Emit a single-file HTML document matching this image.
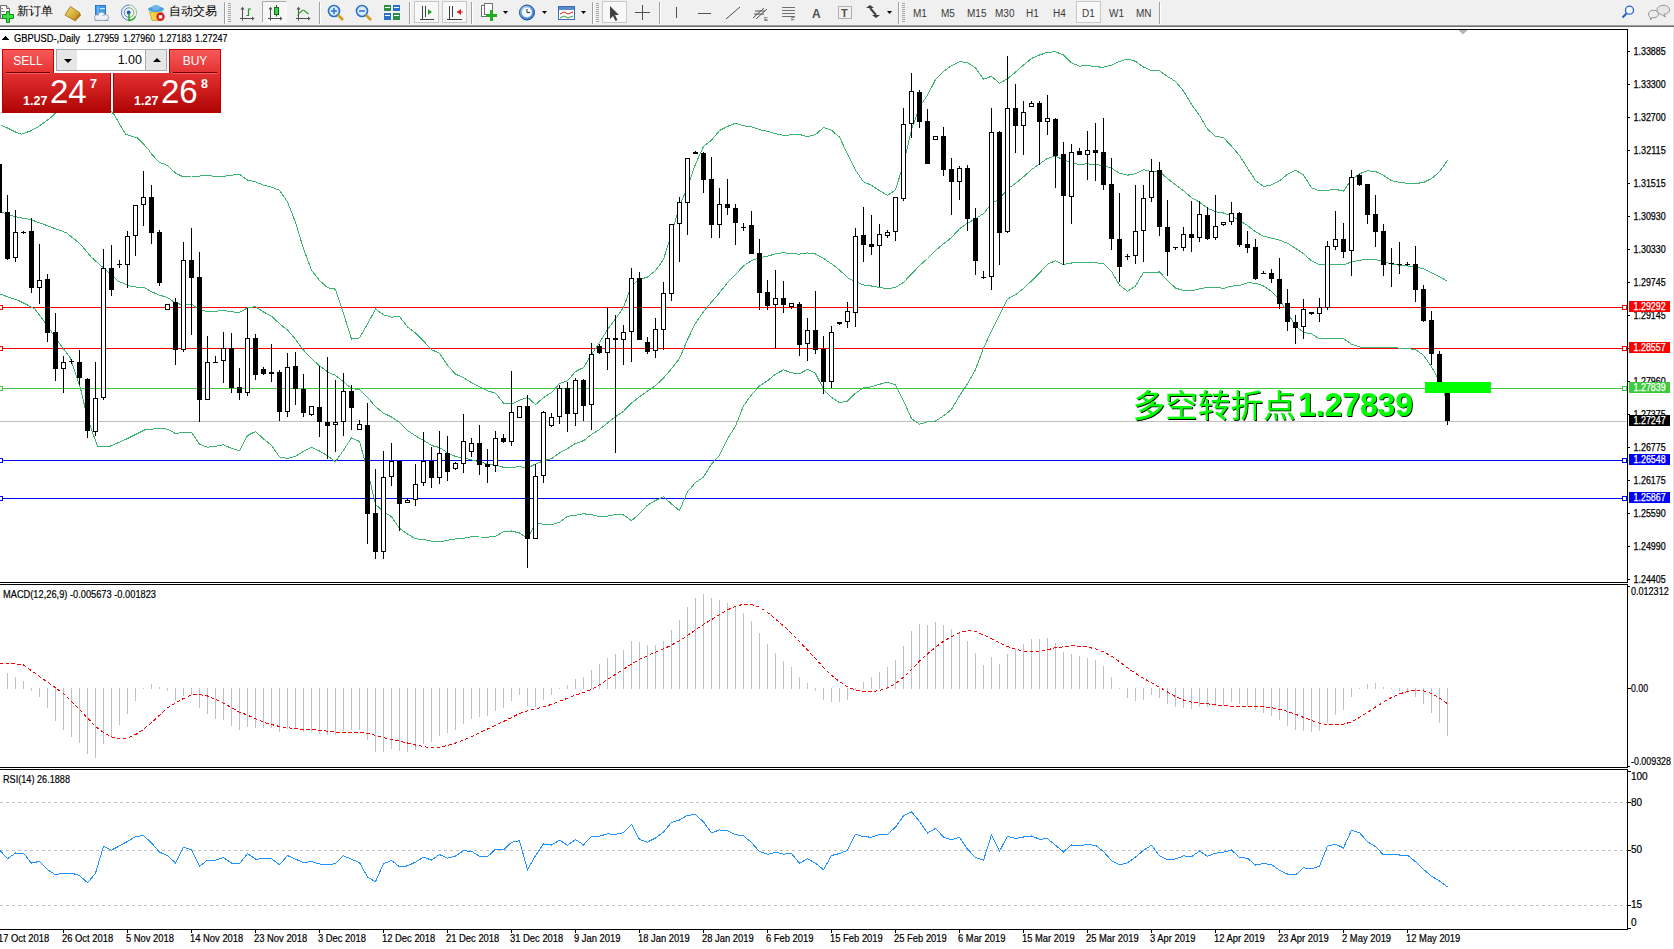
<!DOCTYPE html>
<html><head><meta charset="utf-8"><title>GBPUSD Daily</title><style>
*{margin:0;padding:0;box-sizing:border-box}
html,body{width:1674px;height:949px;overflow:hidden;background:#fff}
#root{position:relative;width:1674px;height:949px;overflow:hidden}
#chart{position:absolute;left:0;top:0}
#tb{position:absolute;left:0;top:0;width:1674px;height:25px;background:#f0f0f0}
.tt{position:absolute;color:#000;line-height:16px;white-space:nowrap}
.tf{position:absolute;top:7.5px;font-family:"Liberation Sans", "DejaVu Sans", sans-serif;font-size:10px;color:#3a3a3a;line-height:12px}
#tp{position:absolute;left:0;top:0}
.hdr{position:absolute;z-index:2;top:49px;width:52px;height:24px;background:linear-gradient(#f85a5a,#e43232);border:1px solid #c80000;border-bottom:none;color:#fff;font-family:"Liberation Sans", "DejaVu Sans", sans-serif;font-size:12px;text-align:center;line-height:22px}
.hdr i{position:absolute;left:3px;right:3px;top:22px;height:1px;background:#7a0000;box-shadow:0 1px 0 #f06060}
.spin{position:absolute;top:49px;width:22px;height:22px;background:#e6e6e6;border:1px solid #a9a9a9}
.spin b{position:absolute;left:7px;top:9px;width:0;height:0;border-left:4px solid transparent;border-right:4px solid transparent}
.spin b.dn{border-top:4px solid #000}
.spin b.up{border-bottom:4px solid #000;top:8px}
.lot{position:absolute;left:77px;top:49px;width:69px;height:22px;background:#fff;border-top:1px solid #a9a9a9;border-bottom:1px solid #a9a9a9;font-family:"Liberation Sans", "DejaVu Sans", sans-serif;font-size:12.5px;text-align:right;padding-right:4px;line-height:20px;color:#000}
.px{position:absolute;top:73px;height:40px;background:linear-gradient(#e43030,#b00404);border:1px solid #b80000;border-top:none;color:#fff;font-family:"Liberation Sans", "DejaVu Sans", sans-serif}
.px .s{position:absolute;left:20px;top:21px;font-size:12.5px;font-weight:bold}
.px .b{position:absolute;left:47px;top:1px;font-size:33px;line-height:36px}
.px .e{position:absolute;left:87px;top:4px;font-size:12.5px;font-weight:bold}
</style></head>
<body><div id="root">
<svg id="chart" width="1674" height="949" viewBox="0 0 1674 949" shape-rendering="crispEdges">
<defs><filter id="sh" x="-5%" y="-20%" width="110%" height="140%"><feDropShadow dx="1" dy="1" stdDeviation="0" flood-color="#000"/></filter></defs>
<rect x="0" y="0" width="1674" height="949" fill="#fff" /><rect x="0" y="421" width="1627" height="1" fill="#c0c0c0" /><rect x="0" y="307" width="1627" height="1" fill="#ff0000" /><rect x="-1.5" y="305.5" width="4" height="4" fill="#fff" stroke="#ff0000" stroke-width="1"/><rect x="1622.5" y="305.5" width="4" height="4" fill="#fff" stroke="#ff0000" stroke-width="1"/><rect x="0" y="348" width="1627" height="1" fill="#ff0000" /><rect x="-1.5" y="346.5" width="4" height="4" fill="#fff" stroke="#ff0000" stroke-width="1"/><rect x="1622.5" y="346.5" width="4" height="4" fill="#fff" stroke="#ff0000" stroke-width="1"/><rect x="0" y="388" width="1627" height="1" fill="#3ccb3c" /><rect x="-1.5" y="386.5" width="4" height="4" fill="#fff" stroke="#3ccb3c" stroke-width="1"/><rect x="1622.5" y="386.5" width="4" height="4" fill="#fff" stroke="#3ccb3c" stroke-width="1"/><rect x="0" y="460" width="1627" height="1" fill="#0000ff" /><rect x="-1.5" y="458.5" width="4" height="4" fill="#fff" stroke="#0000ff" stroke-width="1"/><rect x="1622.5" y="458.5" width="4" height="4" fill="#fff" stroke="#0000ff" stroke-width="1"/><rect x="0" y="498" width="1627" height="1" fill="#0000ff" /><rect x="-1.5" y="496.5" width="4" height="4" fill="#fff" stroke="#0000ff" stroke-width="1"/><rect x="1622.5" y="496.5" width="4" height="4" fill="#fff" stroke="#0000ff" stroke-width="1"/><polyline points="0.5,124.7 7.5,128.0 15.5,132.0 21.5,134.1 30.5,131.0 38.5,126.6 51.5,117.0 60.5,108.0 75.5,98.0 90.5,96.0 105.5,104.0 114.5,115.2 125.5,134.1 137.5,138.0 148.5,149.3 151.5,154.1 159.5,162.3 167.5,165.6 175.5,173.1 183.5,177.0 191.5,176.0 199.5,176.0 207.5,175.9 215.5,176.1 223.5,176.3 231.5,175.2 239.5,174.3 247.5,180.1 255.5,181.8 263.5,185.2 271.5,187.1 279.5,190.3 287.5,201.9 295.5,222.3 303.5,248.8 311.5,270.2 319.5,280.4 327.5,287.7 335.5,289.2 343.5,313.6 351.5,339.0 359.5,338.0 367.5,324.0 375.5,309.1 383.5,314.8 391.5,317.1 399.5,316.4 407.5,326.9 415.5,333.1 423.5,340.9 431.5,349.8 439.5,353.1 447.5,365.3 455.5,374.1 463.5,377.7 471.5,382.7 479.5,386.9 487.5,390.8 495.5,393.2 503.5,403.1 511.5,404.1 519.5,400.3 527.5,397.3 535.5,404.6 543.5,397.6 551.5,392.6 559.5,383.6 567.5,380.9 575.5,371.5 583.5,367.6 591.5,354.4 599.5,342.6 607.5,329.7 615.5,318.9 623.5,307.5 631.5,285.5 639.5,279.7 647.5,277.0 655.5,270.7 663.5,259.5 671.5,233.6 679.5,206.5 687.5,187.1 695.5,164.1 703.5,146.4 711.5,140.1 719.5,130.6 727.5,126.4 735.5,123.2 743.5,125.8 751.5,126.7 759.5,129.6 767.5,131.3 775.5,133.7 783.5,135.3 791.5,134.9 799.5,134.5 807.5,136.6 815.5,134.6 823.5,127.6 831.5,130.3 839.5,137.1 847.5,154.1 855.5,170.1 863.5,181.9 871.5,185.2 879.5,190.8 887.5,195.3 895.5,189.9 903.5,163.9 911.5,129.7 919.5,106.9 927.5,95.1 935.5,79.7 943.5,71.4 951.5,65.6 959.5,61.6 967.5,62.6 975.5,67.8 983.5,79.1 991.5,76.3 999.5,83.2 1007.5,78.8 1015.5,72.1 1023.5,65.1 1031.5,58.4 1039.5,55.0 1047.5,52.3 1055.5,51.8 1063.5,55.0 1071.5,62.8 1079.5,66.2 1087.5,65.3 1095.5,66.8 1103.5,67.2 1111.5,65.1 1119.5,61.4 1127.5,59.1 1135.5,61.3 1143.5,67.1 1151.5,70.5 1159.5,70.8 1167.5,76.5 1175.5,81.3 1183.5,91.0 1191.5,104.3 1199.5,115.5 1207.5,129.2 1215.5,136.2 1223.5,137.6 1231.5,146.1 1239.5,155.5 1247.5,168.1 1255.5,180.4 1263.5,186.4 1271.5,185.0 1279.5,180.8 1287.5,174.3 1295.5,170.2 1303.5,175.0 1311.5,187.8 1319.5,190.9 1327.5,190.3 1335.5,189.3 1343.5,191.2 1351.5,179.5 1359.5,173.8 1367.5,170.8 1375.5,171.5 1383.5,175.3 1391.5,180.7 1399.5,182.2 1407.5,183.4 1415.5,183.5 1423.5,182.5 1431.5,178.6 1439.5,171.8 1447.5,160.5" fill="none" stroke="#3cb371" stroke-width="1" /><polyline points="0.5,211.9 15.5,216.8 30.5,219.5 46.0,225.2 66.5,232.8 80.5,244.2 91.5,257.4 104.5,268.8 118.5,281.3 131.5,286.6 144.5,287.8 151.5,291.7 159.5,295.2 167.5,297.4 175.5,303.3 183.5,304.7 191.5,304.1 199.5,310.1 207.5,311.5 215.5,311.2 223.5,310.5 231.5,311.8 239.5,312.5 247.5,307.8 255.5,306.7 263.5,312.0 271.5,316.2 279.5,323.6 287.5,330.1 295.5,339.3 303.5,350.1 311.5,358.8 319.5,365.7 327.5,371.8 335.5,375.4 343.5,381.9 351.5,388.4 359.5,389.7 367.5,397.3 375.5,406.7 383.5,413.2 391.5,416.9 399.5,422.4 407.5,430.5 415.5,435.9 423.5,440.3 431.5,445.5 439.5,447.5 447.5,452.8 455.5,456.5 463.5,457.9 471.5,459.8 479.5,461.9 487.5,464.0 495.5,464.8 503.5,467.3 511.5,467.5 519.5,466.6 527.5,467.9 535.5,464.1 543.5,460.8 551.5,458.7 559.5,452.9 567.5,448.6 575.5,443.4 583.5,440.7 591.5,434.5 599.5,429.5 607.5,422.9 615.5,416.7 623.5,411.3 631.5,403.0 639.5,396.8 647.5,391.1 655.5,385.6 663.5,378.1 671.5,368.7 679.5,358.5 687.5,339.5 695.5,323.3 703.5,311.7 711.5,302.1 719.5,292.9 727.5,282.6 735.5,274.7 743.5,265.8 751.5,260.7 759.5,257.7 767.5,256.1 775.5,253.9 783.5,252.6 791.5,253.8 799.5,254.1 807.5,253.0 815.5,254.0 823.5,258.4 831.5,263.8 839.5,269.9 847.5,277.6 855.5,281.7 863.5,284.9 871.5,286.0 879.5,287.5 887.5,288.7 895.5,287.4 903.5,282.3 911.5,274.1 919.5,265.6 927.5,258.5 935.5,250.4 943.5,243.7 951.5,237.6 959.5,228.7 967.5,223.2 975.5,218.8 983.5,213.6 991.5,203.6 999.5,199.1 1007.5,188.9 1015.5,183.4 1023.5,176.8 1031.5,169.6 1039.5,164.0 1047.5,158.3 1055.5,156.2 1063.5,159.8 1071.5,162.9 1079.5,164.5 1087.5,163.8 1095.5,164.7 1103.5,165.4 1111.5,168.3 1119.5,173.2 1127.5,175.2 1135.5,173.7 1143.5,169.7 1151.5,171.6 1159.5,171.3 1167.5,178.6 1175.5,184.7 1183.5,190.8 1191.5,197.6 1199.5,202.2 1207.5,208.2 1215.5,211.7 1223.5,213.0 1231.5,216.1 1239.5,220.6 1247.5,225.5 1255.5,231.8 1263.5,236.2 1271.5,238.2 1279.5,240.1 1287.5,243.3 1295.5,248.2 1303.5,253.7 1311.5,260.9 1319.5,264.8 1327.5,264.5 1335.5,264.1 1343.5,264.9 1351.5,261.9 1359.5,260.4 1367.5,259.2 1375.5,259.5 1383.5,261.6 1391.5,264.2 1399.5,265.2 1407.5,266.0 1415.5,266.6 1423.5,268.9 1431.5,272.7 1439.5,276.6 1447.5,281.5" fill="none" stroke="#3cb371" stroke-width="1" /><polyline points="0.5,294.2 19.5,301.0 34.5,308.6 46.0,323.8 57.5,340.9 70.5,358.0 80.5,388.3 87.5,418.7 97.5,446.0 110.5,446.0 125.5,439.5 144.5,430.0 151.5,429.3 159.5,428.1 167.5,429.3 175.5,433.5 183.5,432.4 191.5,432.2 199.5,444.2 207.5,447.2 215.5,446.4 223.5,444.7 231.5,448.3 239.5,450.7 247.5,435.5 255.5,431.6 263.5,438.9 271.5,445.3 279.5,456.9 287.5,458.4 295.5,456.3 303.5,451.4 311.5,447.3 319.5,451.0 327.5,455.9 335.5,461.6 343.5,450.2 351.5,437.9 359.5,441.4 367.5,470.6 375.5,504.4 383.5,511.6 391.5,516.7 399.5,528.4 407.5,534.1 415.5,538.8 423.5,539.6 431.5,541.1 439.5,542.0 447.5,540.2 455.5,538.9 463.5,538.2 471.5,536.8 479.5,537.0 487.5,537.1 495.5,536.4 503.5,531.6 511.5,531.0 519.5,533.0 527.5,538.4 535.5,523.6 543.5,524.1 551.5,524.7 559.5,522.2 567.5,516.3 575.5,515.3 583.5,513.8 591.5,514.6 599.5,516.5 607.5,516.1 615.5,514.5 623.5,515.0 631.5,520.6 639.5,513.8 647.5,505.1 655.5,500.5 663.5,496.7 671.5,503.9 679.5,510.6 687.5,491.9 695.5,482.5 703.5,477.1 711.5,464.1 719.5,455.2 727.5,438.8 735.5,426.2 743.5,405.8 751.5,394.8 759.5,385.8 767.5,380.8 775.5,374.2 783.5,369.9 791.5,372.8 799.5,373.7 807.5,369.3 815.5,373.4 823.5,389.3 831.5,397.4 839.5,402.7 847.5,401.0 855.5,393.2 863.5,387.9 871.5,386.8 879.5,384.3 887.5,382.1 895.5,384.9 903.5,400.6 911.5,418.6 919.5,424.2 927.5,421.9 935.5,421.1 943.5,415.9 951.5,409.5 959.5,395.8 967.5,383.8 975.5,369.7 983.5,348.0 991.5,330.9 999.5,315.0 1007.5,299.1 1015.5,294.7 1023.5,288.5 1031.5,280.9 1039.5,273.0 1047.5,264.3 1055.5,260.7 1063.5,264.6 1071.5,263.0 1079.5,262.9 1087.5,262.4 1095.5,262.6 1103.5,263.7 1111.5,271.5 1119.5,285.1 1127.5,291.2 1135.5,286.1 1143.5,272.3 1151.5,272.8 1159.5,271.9 1167.5,280.6 1175.5,288.0 1183.5,290.6 1191.5,290.9 1199.5,288.9 1207.5,287.2 1215.5,287.3 1223.5,288.4 1231.5,286.1 1239.5,285.6 1247.5,282.8 1255.5,283.2 1263.5,286.0 1271.5,291.4 1279.5,299.3 1287.5,312.4 1295.5,326.1 1303.5,332.4 1311.5,333.9 1319.5,338.8 1327.5,338.7 1335.5,338.8 1343.5,338.6 1351.5,344.2 1359.5,347.0 1367.5,347.6 1375.5,347.5 1383.5,348.0 1391.5,347.6 1399.5,348.1 1407.5,348.6 1415.5,349.6 1423.5,355.3 1431.5,366.8 1439.5,381.3 1447.5,402.5" fill="none" stroke="#3cb371" stroke-width="1" /><rect x="-1" y="160" width="1" height="4" fill="#000" /><rect x="-1" y="213" width="1" height="2" fill="#000" /><rect x="-3" y="164" width="5" height="49" fill="#000" /><rect x="7" y="195" width="1" height="17" fill="#000" /><rect x="7" y="259" width="1" height="1" fill="#000" /><rect x="5" y="212" width="5" height="47" fill="#000" /><rect x="15" y="210" width="1" height="22" fill="#000" /><rect x="15" y="258" width="1" height="4" fill="#000" /><rect x="13.5" y="232.5" width="4" height="25" fill="#fff" stroke="#000" stroke-width="1"/><rect x="23" y="231" width="1" height="1" fill="#000" /><rect x="23" y="233" width="1" height="1" fill="#000" /><rect x="21" y="232" width="5" height="1" fill="#000" /><rect x="31" y="218" width="1" height="13" fill="#000" /><rect x="31" y="288" width="1" height="5" fill="#000" /><rect x="29" y="231" width="5" height="57" fill="#000" /><rect x="39" y="244" width="1" height="36" fill="#000" /><rect x="39" y="288" width="1" height="16" fill="#000" /><rect x="37.5" y="280.5" width="4" height="7" fill="#fff" stroke="#000" stroke-width="1"/><rect x="47" y="274" width="1" height="5" fill="#000" /><rect x="47" y="333" width="1" height="9" fill="#000" /><rect x="45" y="279" width="5" height="54" fill="#000" /><rect x="55" y="313" width="1" height="19" fill="#000" /><rect x="55" y="369" width="1" height="12" fill="#000" /><rect x="53" y="332" width="5" height="37" fill="#000" /><rect x="63" y="356" width="1" height="6" fill="#000" /><rect x="63" y="369" width="1" height="24" fill="#000" /><rect x="61.5" y="362.5" width="4" height="6" fill="#fff" stroke="#000" stroke-width="1"/><rect x="71" y="359" width="1" height="2" fill="#000" /><rect x="71" y="362" width="1" height="2" fill="#000" /><rect x="69" y="361" width="5" height="1" fill="#000" /><rect x="79" y="350" width="1" height="12" fill="#000" /><rect x="79" y="378" width="1" height="7" fill="#000" /><rect x="77" y="362" width="5" height="16" fill="#000" /><rect x="87" y="378" width="1" height="1" fill="#000" /><rect x="87" y="431" width="1" height="7" fill="#000" /><rect x="85" y="379" width="5" height="52" fill="#000" /><rect x="95" y="362" width="1" height="36" fill="#000" /><rect x="95" y="432" width="1" height="4" fill="#000" /><rect x="93.5" y="398.5" width="4" height="33" fill="#fff" stroke="#000" stroke-width="1"/><rect x="103" y="249" width="1" height="19" fill="#000" /><rect x="103" y="398" width="1" height="2" fill="#000" /><rect x="101.5" y="268.5" width="4" height="129" fill="#fff" stroke="#000" stroke-width="1"/><rect x="111" y="245" width="1" height="23" fill="#000" /><rect x="111" y="290" width="1" height="6" fill="#000" /><rect x="109" y="268" width="5" height="22" fill="#000" /><rect x="119" y="260" width="1" height="4" fill="#000" /><rect x="119" y="265" width="1" height="3" fill="#000" /><rect x="117" y="264" width="5" height="1" fill="#000" /><rect x="127" y="231" width="1" height="5" fill="#000" /><rect x="127" y="265" width="1" height="23" fill="#000" /><rect x="125.5" y="236.5" width="4" height="28" fill="#fff" stroke="#000" stroke-width="1"/><rect x="135" y="236" width="1" height="20" fill="#000" /><rect x="133.5" y="205.5" width="4" height="30" fill="#fff" stroke="#000" stroke-width="1"/><rect x="143" y="171" width="1" height="26" fill="#000" /><rect x="143" y="205" width="1" height="21" fill="#000" /><rect x="141.5" y="197.5" width="4" height="7" fill="#fff" stroke="#000" stroke-width="1"/><rect x="151" y="185" width="1" height="12" fill="#000" /><rect x="151" y="233" width="1" height="11" fill="#000" /><rect x="149" y="197" width="5" height="36" fill="#000" /><rect x="159" y="230" width="1" height="2" fill="#000" /><rect x="159" y="283" width="1" height="3" fill="#000" /><rect x="157" y="232" width="5" height="51" fill="#000" /><rect x="165.5" y="304.5" width="4" height="5" fill="#fff" stroke="#000" stroke-width="1"/><rect x="175" y="298" width="1" height="4" fill="#000" /><rect x="175" y="350" width="1" height="15" fill="#000" /><rect x="173" y="302" width="5" height="48" fill="#000" /><rect x="183" y="242" width="1" height="18" fill="#000" /><rect x="183" y="350" width="1" height="2" fill="#000" /><rect x="181.5" y="260.5" width="4" height="89" fill="#fff" stroke="#000" stroke-width="1"/><rect x="191" y="228" width="1" height="32" fill="#000" /><rect x="191" y="278" width="1" height="57" fill="#000" /><rect x="189" y="260" width="5" height="18" fill="#000" /><rect x="199" y="252" width="1" height="25" fill="#000" /><rect x="199" y="400" width="1" height="22" fill="#000" /><rect x="197" y="277" width="5" height="123" fill="#000" /><rect x="207" y="336" width="1" height="26" fill="#000" /><rect x="205.5" y="362.5" width="4" height="37" fill="#fff" stroke="#000" stroke-width="1"/><rect x="215" y="356" width="1" height="6" fill="#000" /><rect x="213" y="362" width="5" height="1" fill="#000" /><rect x="223" y="332" width="1" height="16" fill="#000" /><rect x="223" y="361" width="1" height="22" fill="#000" /><rect x="221.5" y="348.5" width="4" height="12" fill="#fff" stroke="#000" stroke-width="1"/><rect x="231" y="333" width="1" height="15" fill="#000" /><rect x="231" y="388" width="1" height="5" fill="#000" /><rect x="229" y="348" width="5" height="40" fill="#000" /><rect x="239" y="368" width="1" height="19" fill="#000" /><rect x="239" y="393" width="1" height="7" fill="#000" /><rect x="237" y="387" width="5" height="6" fill="#000" /><rect x="247" y="308" width="1" height="30" fill="#000" /><rect x="247" y="393" width="1" height="3" fill="#000" /><rect x="245.5" y="338.5" width="4" height="54" fill="#fff" stroke="#000" stroke-width="1"/><rect x="255" y="334" width="1" height="4" fill="#000" /><rect x="255" y="375" width="1" height="5" fill="#000" /><rect x="253" y="338" width="5" height="37" fill="#000" /><rect x="263" y="367" width="1" height="2" fill="#000" /><rect x="263" y="374" width="1" height="1" fill="#000" /><rect x="261" y="369" width="5" height="5" fill="#000" /><rect x="271" y="344" width="1" height="28" fill="#000" /><rect x="271" y="374" width="1" height="8" fill="#000" /><rect x="269" y="372" width="5" height="2" fill="#000" /><rect x="279" y="370" width="1" height="2" fill="#000" /><rect x="279" y="412" width="1" height="9" fill="#000" /><rect x="277" y="372" width="5" height="40" fill="#000" /><rect x="287" y="353" width="1" height="14" fill="#000" /><rect x="287" y="412" width="1" height="5" fill="#000" /><rect x="285.5" y="367.5" width="4" height="44" fill="#fff" stroke="#000" stroke-width="1"/><rect x="295" y="352" width="1" height="14" fill="#000" /><rect x="295" y="389" width="1" height="16" fill="#000" /><rect x="293" y="366" width="5" height="23" fill="#000" /><rect x="303" y="374" width="1" height="15" fill="#000" /><rect x="303" y="413" width="1" height="4" fill="#000" /><rect x="301" y="389" width="5" height="24" fill="#000" /><rect x="311" y="415" width="1" height="1" fill="#000" /><rect x="309.5" y="406.5" width="4" height="8" fill="#fff" stroke="#000" stroke-width="1"/><rect x="319" y="366" width="1" height="41" fill="#000" /><rect x="319" y="422" width="1" height="15" fill="#000" /><rect x="317" y="407" width="5" height="15" fill="#000" /><rect x="327" y="357" width="1" height="65" fill="#000" /><rect x="327" y="426" width="1" height="33" fill="#000" /><rect x="325" y="422" width="5" height="4" fill="#000" /><rect x="335" y="380" width="1" height="42" fill="#000" /><rect x="335" y="425" width="1" height="27" fill="#000" /><rect x="333.5" y="422.5" width="4" height="2" fill="#fff" stroke="#000" stroke-width="1"/><rect x="343" y="373" width="1" height="18" fill="#000" /><rect x="343" y="422" width="1" height="14" fill="#000" /><rect x="341.5" y="391.5" width="4" height="30" fill="#fff" stroke="#000" stroke-width="1"/><rect x="351" y="385" width="1" height="6" fill="#000" /><rect x="351" y="408" width="1" height="22" fill="#000" /><rect x="349" y="391" width="5" height="17" fill="#000" /><rect x="359" y="420" width="1" height="4" fill="#000" /><rect x="357.5" y="424.5" width="4" height="5" fill="#fff" stroke="#000" stroke-width="1"/><rect x="367" y="403" width="1" height="22" fill="#000" /><rect x="367" y="514" width="1" height="30" fill="#000" /><rect x="365" y="425" width="5" height="89" fill="#000" /><rect x="375" y="469" width="1" height="44" fill="#000" /><rect x="375" y="552" width="1" height="7" fill="#000" /><rect x="373" y="513" width="5" height="39" fill="#000" /><rect x="383" y="451" width="1" height="26" fill="#000" /><rect x="383" y="552" width="1" height="7" fill="#000" /><rect x="381.5" y="477.5" width="4" height="74" fill="#fff" stroke="#000" stroke-width="1"/><rect x="391" y="443" width="1" height="18" fill="#000" /><rect x="391" y="477" width="1" height="9" fill="#000" /><rect x="389.5" y="461.5" width="4" height="15" fill="#fff" stroke="#000" stroke-width="1"/><rect x="399" y="460" width="1" height="1" fill="#000" /><rect x="399" y="504" width="1" height="27" fill="#000" /><rect x="397" y="461" width="5" height="43" fill="#000" /><rect x="407" y="498" width="1" height="2" fill="#000" /><rect x="405.5" y="500.5" width="4" height="2" fill="#fff" stroke="#000" stroke-width="1"/><rect x="415" y="464" width="1" height="20" fill="#000" /><rect x="415" y="500" width="1" height="6" fill="#000" /><rect x="413.5" y="484.5" width="4" height="15" fill="#fff" stroke="#000" stroke-width="1"/><rect x="423" y="432" width="1" height="29" fill="#000" /><rect x="423" y="483" width="1" height="3" fill="#000" /><rect x="421.5" y="461.5" width="4" height="21" fill="#fff" stroke="#000" stroke-width="1"/><rect x="431" y="447" width="1" height="14" fill="#000" /><rect x="431" y="478" width="1" height="10" fill="#000" /><rect x="429" y="461" width="5" height="17" fill="#000" /><rect x="439" y="431" width="1" height="22" fill="#000" /><rect x="439" y="478" width="1" height="6" fill="#000" /><rect x="437.5" y="453.5" width="4" height="24" fill="#fff" stroke="#000" stroke-width="1"/><rect x="447" y="436" width="1" height="17" fill="#000" /><rect x="447" y="472" width="1" height="9" fill="#000" /><rect x="445" y="453" width="5" height="19" fill="#000" /><rect x="455" y="462" width="1" height="1" fill="#000" /><rect x="455" y="469" width="1" height="1" fill="#000" /><rect x="453.5" y="463.5" width="4" height="5" fill="#fff" stroke="#000" stroke-width="1"/><rect x="463" y="414" width="1" height="27" fill="#000" /><rect x="463" y="464" width="1" height="9" fill="#000" /><rect x="461.5" y="441.5" width="4" height="22" fill="#fff" stroke="#000" stroke-width="1"/><rect x="471" y="438" width="1" height="5" fill="#000" /><rect x="471" y="452" width="1" height="5" fill="#000" /><rect x="469.5" y="443.5" width="4" height="8" fill="#fff" stroke="#000" stroke-width="1"/><rect x="479" y="425" width="1" height="18" fill="#000" /><rect x="479" y="465" width="1" height="10" fill="#000" /><rect x="477" y="443" width="5" height="22" fill="#000" /><rect x="487" y="449" width="1" height="15" fill="#000" /><rect x="487" y="467" width="1" height="16" fill="#000" /><rect x="485" y="464" width="5" height="3" fill="#000" /><rect x="495" y="431" width="1" height="7" fill="#000" /><rect x="495" y="466" width="1" height="6" fill="#000" /><rect x="493.5" y="438.5" width="4" height="27" fill="#fff" stroke="#000" stroke-width="1"/><rect x="503" y="434" width="1" height="4" fill="#000" /><rect x="503" y="442" width="1" height="1" fill="#000" /><rect x="501" y="438" width="5" height="4" fill="#000" /><rect x="511" y="371" width="1" height="41" fill="#000" /><rect x="511" y="442" width="1" height="4" fill="#000" /><rect x="509.5" y="412.5" width="4" height="29" fill="#fff" stroke="#000" stroke-width="1"/><rect x="517.5" y="406.5" width="4" height="11" fill="#fff" stroke="#000" stroke-width="1"/><rect x="527" y="395" width="1" height="11" fill="#000" /><rect x="527" y="539" width="1" height="29" fill="#000" /><rect x="525" y="406" width="5" height="133" fill="#000" /><rect x="535" y="464" width="1" height="12" fill="#000" /><rect x="533.5" y="476.5" width="4" height="62" fill="#fff" stroke="#000" stroke-width="1"/><rect x="543" y="411" width="1" height="1" fill="#000" /><rect x="543" y="476" width="1" height="7" fill="#000" /><rect x="541.5" y="412.5" width="4" height="63" fill="#fff" stroke="#000" stroke-width="1"/><rect x="551" y="413" width="1" height="4" fill="#000" /><rect x="551" y="426" width="1" height="1" fill="#000" /><rect x="549.5" y="417.5" width="4" height="8" fill="#fff" stroke="#000" stroke-width="1"/><rect x="559" y="385" width="1" height="3" fill="#000" /><rect x="559" y="417" width="1" height="7" fill="#000" /><rect x="557.5" y="388.5" width="4" height="28" fill="#fff" stroke="#000" stroke-width="1"/><rect x="567" y="382" width="1" height="6" fill="#000" /><rect x="567" y="414" width="1" height="18" fill="#000" /><rect x="565" y="388" width="5" height="26" fill="#000" /><rect x="575" y="378" width="1" height="2" fill="#000" /><rect x="575" y="414" width="1" height="12" fill="#000" /><rect x="573.5" y="380.5" width="4" height="33" fill="#fff" stroke="#000" stroke-width="1"/><rect x="583" y="379" width="1" height="1" fill="#000" /><rect x="583" y="406" width="1" height="15" fill="#000" /><rect x="581" y="380" width="5" height="26" fill="#000" /><rect x="591" y="343" width="1" height="11" fill="#000" /><rect x="591" y="405" width="1" height="25" fill="#000" /><rect x="589.5" y="354.5" width="4" height="50" fill="#fff" stroke="#000" stroke-width="1"/><rect x="599" y="344" width="1" height="2" fill="#000" /><rect x="599" y="353" width="1" height="1" fill="#000" /><rect x="597" y="346" width="5" height="7" fill="#000" /><rect x="607" y="307" width="1" height="31" fill="#000" /><rect x="607" y="353" width="1" height="17" fill="#000" /><rect x="605.5" y="338.5" width="4" height="14" fill="#fff" stroke="#000" stroke-width="1"/><rect x="615" y="315" width="1" height="23" fill="#000" /><rect x="615" y="340" width="1" height="113" fill="#000" /><rect x="613" y="338" width="5" height="2" fill="#000" /><rect x="623" y="325" width="1" height="7" fill="#000" /><rect x="623" y="340" width="1" height="25" fill="#000" /><rect x="621.5" y="332.5" width="4" height="7" fill="#fff" stroke="#000" stroke-width="1"/><rect x="631" y="268" width="1" height="10" fill="#000" /><rect x="631" y="332" width="1" height="30" fill="#000" /><rect x="629.5" y="278.5" width="4" height="53" fill="#fff" stroke="#000" stroke-width="1"/><rect x="639" y="272" width="1" height="6" fill="#000" /><rect x="637" y="278" width="5" height="62" fill="#000" /><rect x="647" y="337" width="1" height="5" fill="#000" /><rect x="647" y="352" width="1" height="2" fill="#000" /><rect x="645" y="342" width="5" height="10" fill="#000" /><rect x="655" y="318" width="1" height="11" fill="#000" /><rect x="655" y="351" width="1" height="7" fill="#000" /><rect x="653.5" y="329.5" width="4" height="21" fill="#fff" stroke="#000" stroke-width="1"/><rect x="663" y="282" width="1" height="11" fill="#000" /><rect x="663" y="330" width="1" height="20" fill="#000" /><rect x="661.5" y="293.5" width="4" height="36" fill="#fff" stroke="#000" stroke-width="1"/><rect x="671" y="294" width="1" height="7" fill="#000" /><rect x="669.5" y="224.5" width="4" height="69" fill="#fff" stroke="#000" stroke-width="1"/><rect x="679" y="197" width="1" height="5" fill="#000" /><rect x="679" y="224" width="1" height="38" fill="#000" /><rect x="677.5" y="202.5" width="4" height="21" fill="#fff" stroke="#000" stroke-width="1"/><rect x="687" y="203" width="1" height="32" fill="#000" /><rect x="685.5" y="158.5" width="4" height="44" fill="#fff" stroke="#000" stroke-width="1"/><rect x="695" y="151" width="1" height="1" fill="#000" /><rect x="693" y="152" width="5" height="2" fill="#000" /><rect x="703" y="152" width="1" height="1" fill="#000" /><rect x="703" y="180" width="1" height="13" fill="#000" /><rect x="701" y="153" width="5" height="27" fill="#000" /><rect x="711" y="157" width="1" height="22" fill="#000" /><rect x="711" y="225" width="1" height="13" fill="#000" /><rect x="709" y="179" width="5" height="46" fill="#000" /><rect x="719" y="188" width="1" height="16" fill="#000" /><rect x="719" y="225" width="1" height="13" fill="#000" /><rect x="717.5" y="204.5" width="4" height="20" fill="#fff" stroke="#000" stroke-width="1"/><rect x="727" y="179" width="1" height="25" fill="#000" /><rect x="727" y="208" width="1" height="7" fill="#000" /><rect x="725" y="204" width="5" height="4" fill="#000" /><rect x="735" y="204" width="1" height="4" fill="#000" /><rect x="735" y="223" width="1" height="22" fill="#000" /><rect x="733" y="208" width="5" height="15" fill="#000" /><rect x="743" y="223" width="1" height="4" fill="#000" /><rect x="743" y="228" width="1" height="3" fill="#000" /><rect x="741" y="227" width="5" height="1" fill="#000" /><rect x="751" y="211" width="1" height="14" fill="#000" /><rect x="749" y="225" width="5" height="29" fill="#000" /><rect x="759" y="239" width="1" height="14" fill="#000" /><rect x="759" y="293" width="1" height="17" fill="#000" /><rect x="757" y="253" width="5" height="40" fill="#000" /><rect x="767" y="280" width="1" height="12" fill="#000" /><rect x="767" y="306" width="1" height="4" fill="#000" /><rect x="765" y="292" width="5" height="14" fill="#000" /><rect x="775" y="270" width="1" height="28" fill="#000" /><rect x="775" y="305" width="1" height="44" fill="#000" /><rect x="773.5" y="298.5" width="4" height="6" fill="#fff" stroke="#000" stroke-width="1"/><rect x="783" y="281" width="1" height="17" fill="#000" /><rect x="783" y="305" width="1" height="8" fill="#000" /><rect x="781" y="298" width="5" height="7" fill="#000" /><rect x="791" y="307" width="1" height="2" fill="#000" /><rect x="789.5" y="303.5" width="4" height="3" fill="#fff" stroke="#000" stroke-width="1"/><rect x="799" y="302" width="1" height="2" fill="#000" /><rect x="799" y="345" width="1" height="11" fill="#000" /><rect x="797" y="304" width="5" height="41" fill="#000" /><rect x="807" y="318" width="1" height="12" fill="#000" /><rect x="807" y="344" width="1" height="17" fill="#000" /><rect x="805.5" y="330.5" width="4" height="13" fill="#fff" stroke="#000" stroke-width="1"/><rect x="815" y="291" width="1" height="39" fill="#000" /><rect x="815" y="350" width="1" height="4" fill="#000" /><rect x="813" y="330" width="5" height="20" fill="#000" /><rect x="823" y="336" width="1" height="13" fill="#000" /><rect x="823" y="382" width="1" height="12" fill="#000" /><rect x="821" y="349" width="5" height="33" fill="#000" /><rect x="831" y="326" width="1" height="6" fill="#000" /><rect x="831" y="382" width="1" height="6" fill="#000" /><rect x="829.5" y="332.5" width="4" height="49" fill="#fff" stroke="#000" stroke-width="1"/><rect x="839" y="324" width="1" height="1" fill="#000" /><rect x="837" y="322" width="5" height="2" fill="#000" /><rect x="847" y="302" width="1" height="9" fill="#000" /><rect x="847" y="322" width="1" height="6" fill="#000" /><rect x="845.5" y="311.5" width="4" height="10" fill="#fff" stroke="#000" stroke-width="1"/><rect x="855" y="228" width="1" height="8" fill="#000" /><rect x="855" y="313" width="1" height="14" fill="#000" /><rect x="853.5" y="236.5" width="4" height="76" fill="#fff" stroke="#000" stroke-width="1"/><rect x="863" y="207" width="1" height="28" fill="#000" /><rect x="863" y="245" width="1" height="17" fill="#000" /><rect x="861" y="235" width="5" height="10" fill="#000" /><rect x="871" y="215" width="1" height="29" fill="#000" /><rect x="871" y="247" width="1" height="8" fill="#000" /><rect x="869" y="244" width="5" height="3" fill="#000" /><rect x="879" y="224" width="1" height="10" fill="#000" /><rect x="879" y="246" width="1" height="41" fill="#000" /><rect x="877.5" y="234.5" width="4" height="11" fill="#fff" stroke="#000" stroke-width="1"/><rect x="887" y="230" width="1" height="2" fill="#000" /><rect x="887" y="236" width="1" height="2" fill="#000" /><rect x="885.5" y="232.5" width="4" height="3" fill="#fff" stroke="#000" stroke-width="1"/><rect x="895" y="232" width="1" height="9" fill="#000" /><rect x="893.5" y="197.5" width="4" height="34" fill="#fff" stroke="#000" stroke-width="1"/><rect x="903" y="108" width="1" height="16" fill="#000" /><rect x="903" y="199" width="1" height="2" fill="#000" /><rect x="901.5" y="124.5" width="4" height="74" fill="#fff" stroke="#000" stroke-width="1"/><rect x="911" y="73" width="1" height="18" fill="#000" /><rect x="911" y="124" width="1" height="14" fill="#000" /><rect x="909.5" y="91.5" width="4" height="32" fill="#fff" stroke="#000" stroke-width="1"/><rect x="919" y="90" width="1" height="2" fill="#000" /><rect x="919" y="122" width="1" height="6" fill="#000" /><rect x="917" y="92" width="5" height="30" fill="#000" /><rect x="927" y="109" width="1" height="12" fill="#000" /><rect x="925" y="121" width="5" height="43" fill="#000" /><rect x="933.5" y="136.5" width="4" height="3" fill="#fff" stroke="#000" stroke-width="1"/><rect x="943" y="127" width="1" height="9" fill="#000" /><rect x="943" y="170" width="1" height="6" fill="#000" /><rect x="941" y="136" width="5" height="34" fill="#000" /><rect x="951" y="158" width="1" height="11" fill="#000" /><rect x="951" y="182" width="1" height="33" fill="#000" /><rect x="949" y="169" width="5" height="13" fill="#000" /><rect x="959" y="166" width="1" height="2" fill="#000" /><rect x="959" y="182" width="1" height="18" fill="#000" /><rect x="957.5" y="168.5" width="4" height="13" fill="#fff" stroke="#000" stroke-width="1"/><rect x="967" y="165" width="1" height="3" fill="#000" /><rect x="967" y="219" width="1" height="12" fill="#000" /><rect x="965" y="168" width="5" height="51" fill="#000" /><rect x="975" y="208" width="1" height="10" fill="#000" /><rect x="975" y="261" width="1" height="14" fill="#000" /><rect x="973" y="218" width="5" height="43" fill="#000" /><rect x="983" y="271" width="1" height="6" fill="#000" /><rect x="983" y="278" width="1" height="1" fill="#000" /><rect x="981" y="277" width="5" height="1" fill="#000" /><rect x="991" y="108" width="1" height="24" fill="#000" /><rect x="991" y="277" width="1" height="13" fill="#000" /><rect x="989.5" y="132.5" width="4" height="144" fill="#fff" stroke="#000" stroke-width="1"/><rect x="999" y="131" width="1" height="1" fill="#000" /><rect x="999" y="233" width="1" height="32" fill="#000" /><rect x="997" y="132" width="5" height="101" fill="#000" /><rect x="1007" y="56" width="1" height="52" fill="#000" /><rect x="1007" y="232" width="1" height="1" fill="#000" /><rect x="1005.5" y="108.5" width="4" height="123" fill="#fff" stroke="#000" stroke-width="1"/><rect x="1015" y="84" width="1" height="24" fill="#000" /><rect x="1015" y="126" width="1" height="27" fill="#000" /><rect x="1013" y="108" width="5" height="18" fill="#000" /><rect x="1023" y="101" width="1" height="11" fill="#000" /><rect x="1023" y="126" width="1" height="29" fill="#000" /><rect x="1021.5" y="112.5" width="4" height="13" fill="#fff" stroke="#000" stroke-width="1"/><rect x="1031" y="101" width="1" height="2" fill="#000" /><rect x="1029.5" y="103.5" width="4" height="3" fill="#fff" stroke="#000" stroke-width="1"/><rect x="1039" y="101" width="1" height="2" fill="#000" /><rect x="1039" y="122" width="1" height="43" fill="#000" /><rect x="1037" y="103" width="5" height="19" fill="#000" /><rect x="1047" y="95" width="1" height="23" fill="#000" /><rect x="1047" y="122" width="1" height="13" fill="#000" /><rect x="1045.5" y="118.5" width="4" height="3" fill="#fff" stroke="#000" stroke-width="1"/><rect x="1055" y="118" width="1" height="1" fill="#000" /><rect x="1055" y="156" width="1" height="32" fill="#000" /><rect x="1053" y="119" width="5" height="37" fill="#000" /><rect x="1063" y="142" width="1" height="12" fill="#000" /><rect x="1063" y="196" width="1" height="69" fill="#000" /><rect x="1061" y="154" width="5" height="42" fill="#000" /><rect x="1071" y="144" width="1" height="8" fill="#000" /><rect x="1071" y="197" width="1" height="27" fill="#000" /><rect x="1069.5" y="152.5" width="4" height="44" fill="#fff" stroke="#000" stroke-width="1"/><rect x="1079" y="148" width="1" height="3" fill="#000" /><rect x="1077" y="151" width="5" height="4" fill="#000" /><rect x="1087" y="131" width="1" height="19" fill="#000" /><rect x="1087" y="155" width="1" height="25" fill="#000" /><rect x="1085.5" y="150.5" width="4" height="4" fill="#fff" stroke="#000" stroke-width="1"/><rect x="1095" y="123" width="1" height="27" fill="#000" /><rect x="1095" y="153" width="1" height="28" fill="#000" /><rect x="1093" y="150" width="5" height="3" fill="#000" /><rect x="1103" y="118" width="1" height="34" fill="#000" /><rect x="1103" y="185" width="1" height="5" fill="#000" /><rect x="1101" y="152" width="5" height="33" fill="#000" /><rect x="1111" y="158" width="1" height="26" fill="#000" /><rect x="1111" y="239" width="1" height="11" fill="#000" /><rect x="1109" y="184" width="5" height="55" fill="#000" /><rect x="1119" y="193" width="1" height="46" fill="#000" /><rect x="1119" y="267" width="1" height="15" fill="#000" /><rect x="1117" y="239" width="5" height="28" fill="#000" /><rect x="1127" y="254" width="1" height="2" fill="#000" /><rect x="1127" y="257" width="1" height="3" fill="#000" /><rect x="1125" y="256" width="5" height="1" fill="#000" /><rect x="1135" y="185" width="1" height="46" fill="#000" /><rect x="1135" y="256" width="1" height="8" fill="#000" /><rect x="1133.5" y="231.5" width="4" height="24" fill="#fff" stroke="#000" stroke-width="1"/><rect x="1143" y="185" width="1" height="13" fill="#000" /><rect x="1143" y="231" width="1" height="31" fill="#000" /><rect x="1141.5" y="198.5" width="4" height="32" fill="#fff" stroke="#000" stroke-width="1"/><rect x="1151" y="159" width="1" height="12" fill="#000" /><rect x="1151" y="198" width="1" height="4" fill="#000" /><rect x="1149.5" y="171.5" width="4" height="26" fill="#fff" stroke="#000" stroke-width="1"/><rect x="1159" y="162" width="1" height="8" fill="#000" /><rect x="1159" y="227" width="1" height="9" fill="#000" /><rect x="1157" y="170" width="5" height="57" fill="#000" /><rect x="1167" y="200" width="1" height="27" fill="#000" /><rect x="1167" y="252" width="1" height="24" fill="#000" /><rect x="1165" y="227" width="5" height="25" fill="#000" /><rect x="1175" y="248" width="1" height="2" fill="#000" /><rect x="1173" y="247" width="5" height="1" fill="#000" /><rect x="1183" y="227" width="1" height="7" fill="#000" /><rect x="1183" y="248" width="1" height="3" fill="#000" /><rect x="1181.5" y="234.5" width="4" height="13" fill="#fff" stroke="#000" stroke-width="1"/><rect x="1191" y="201" width="1" height="33" fill="#000" /><rect x="1191" y="238" width="1" height="14" fill="#000" /><rect x="1189" y="234" width="5" height="4" fill="#000" /><rect x="1199" y="201" width="1" height="13" fill="#000" /><rect x="1199" y="238" width="1" height="4" fill="#000" /><rect x="1197.5" y="214.5" width="4" height="23" fill="#fff" stroke="#000" stroke-width="1"/><rect x="1207" y="207" width="1" height="8" fill="#000" /><rect x="1207" y="239" width="1" height="1" fill="#000" /><rect x="1205" y="215" width="5" height="24" fill="#000" /><rect x="1215" y="195" width="1" height="31" fill="#000" /><rect x="1215" y="238" width="1" height="2" fill="#000" /><rect x="1213.5" y="226.5" width="4" height="11" fill="#fff" stroke="#000" stroke-width="1"/><rect x="1223" y="225" width="1" height="1" fill="#000" /><rect x="1221.5" y="222.5" width="4" height="2" fill="#fff" stroke="#000" stroke-width="1"/><rect x="1231" y="202" width="1" height="11" fill="#000" /><rect x="1231" y="222" width="1" height="3" fill="#000" /><rect x="1229.5" y="213.5" width="4" height="8" fill="#fff" stroke="#000" stroke-width="1"/><rect x="1239" y="212" width="1" height="1" fill="#000" /><rect x="1239" y="245" width="1" height="2" fill="#000" /><rect x="1237" y="213" width="5" height="32" fill="#000" /><rect x="1247" y="231" width="1" height="13" fill="#000" /><rect x="1247" y="248" width="1" height="5" fill="#000" /><rect x="1245" y="244" width="5" height="4" fill="#000" /><rect x="1255" y="239" width="1" height="8" fill="#000" /><rect x="1255" y="279" width="1" height="1" fill="#000" /><rect x="1253" y="247" width="5" height="32" fill="#000" /><rect x="1263" y="271" width="1" height="2" fill="#000" /><rect x="1261" y="273" width="5" height="1" fill="#000" /><rect x="1271" y="269" width="1" height="4" fill="#000" /><rect x="1271" y="279" width="1" height="4" fill="#000" /><rect x="1269" y="273" width="5" height="6" fill="#000" /><rect x="1279" y="258" width="1" height="21" fill="#000" /><rect x="1279" y="304" width="1" height="5" fill="#000" /><rect x="1277" y="279" width="5" height="25" fill="#000" /><rect x="1287" y="289" width="1" height="14" fill="#000" /><rect x="1287" y="322" width="1" height="9" fill="#000" /><rect x="1285" y="303" width="5" height="19" fill="#000" /><rect x="1295" y="315" width="1" height="7" fill="#000" /><rect x="1295" y="328" width="1" height="16" fill="#000" /><rect x="1293" y="322" width="5" height="6" fill="#000" /><rect x="1303" y="299" width="1" height="10" fill="#000" /><rect x="1303" y="327" width="1" height="12" fill="#000" /><rect x="1301.5" y="309.5" width="4" height="17" fill="#fff" stroke="#000" stroke-width="1"/><rect x="1311" y="314" width="1" height="1" fill="#000" /><rect x="1309" y="312" width="5" height="2" fill="#000" /><rect x="1319" y="298" width="1" height="9" fill="#000" /><rect x="1319" y="314" width="1" height="8" fill="#000" /><rect x="1317.5" y="307.5" width="4" height="6" fill="#fff" stroke="#000" stroke-width="1"/><rect x="1327" y="241" width="1" height="5" fill="#000" /><rect x="1327" y="308" width="1" height="2" fill="#000" /><rect x="1325.5" y="246.5" width="4" height="61" fill="#fff" stroke="#000" stroke-width="1"/><rect x="1335" y="211" width="1" height="28" fill="#000" /><rect x="1335" y="247" width="1" height="3" fill="#000" /><rect x="1333.5" y="239.5" width="4" height="7" fill="#fff" stroke="#000" stroke-width="1"/><rect x="1343" y="223" width="1" height="16" fill="#000" /><rect x="1343" y="252" width="1" height="6" fill="#000" /><rect x="1341" y="239" width="5" height="13" fill="#000" /><rect x="1351" y="170" width="1" height="7" fill="#000" /><rect x="1351" y="251" width="1" height="25" fill="#000" /><rect x="1349.5" y="177.5" width="4" height="73" fill="#fff" stroke="#000" stroke-width="1"/><rect x="1359" y="174" width="1" height="1" fill="#000" /><rect x="1359" y="185" width="1" height="1" fill="#000" /><rect x="1357" y="175" width="5" height="10" fill="#000" /><rect x="1367" y="215" width="1" height="9" fill="#000" /><rect x="1365" y="184" width="5" height="31" fill="#000" /><rect x="1375" y="195" width="1" height="19" fill="#000" /><rect x="1375" y="232" width="1" height="15" fill="#000" /><rect x="1373" y="214" width="5" height="18" fill="#000" /><rect x="1383" y="224" width="1" height="7" fill="#000" /><rect x="1383" y="265" width="1" height="11" fill="#000" /><rect x="1381" y="231" width="5" height="34" fill="#000" /><rect x="1391" y="248" width="1" height="15" fill="#000" /><rect x="1391" y="264" width="1" height="23" fill="#000" /><rect x="1389" y="263" width="5" height="1" fill="#000" /><rect x="1399" y="242" width="1" height="22" fill="#000" /><rect x="1399" y="265" width="1" height="9" fill="#000" /><rect x="1397" y="264" width="5" height="1" fill="#000" /><rect x="1407" y="262" width="1" height="2" fill="#000" /><rect x="1407" y="265" width="1" height="1" fill="#000" /><rect x="1405" y="264" width="5" height="1" fill="#000" /><rect x="1415" y="246" width="1" height="18" fill="#000" /><rect x="1415" y="290" width="1" height="12" fill="#000" /><rect x="1413" y="264" width="5" height="26" fill="#000" /><rect x="1423" y="285" width="1" height="4" fill="#000" /><rect x="1423" y="321" width="1" height="1" fill="#000" /><rect x="1421" y="289" width="5" height="32" fill="#000" /><rect x="1431" y="311" width="1" height="9" fill="#000" /><rect x="1431" y="354" width="1" height="11" fill="#000" /><rect x="1429" y="320" width="5" height="34" fill="#000" /><rect x="1439" y="351" width="1" height="3" fill="#000" /><rect x="1437" y="354" width="5" height="28" fill="#000" /><rect x="1447" y="421" width="1" height="4" fill="#000" /><rect x="1445" y="382" width="5" height="39" fill="#000" /><rect x="1425" y="382" width="66" height="11" fill="#00ff00" /><g filter="url(#sh)"><text x="1132.5" y="416.5" font-size="32" font-weight="400" fill="#00ff00" font-family='"Noto Sans CJK SC","WenQuanYi Zen Hei",sans-serif' textLength="163" lengthAdjust="spacingAndGlyphs">多空转折点</text><text x="1298" y="415.6" font-size="33" font-weight="bold" fill="#00ff00" font-family='"Liberation Sans",sans-serif' textLength="115" lengthAdjust="spacingAndGlyphs">1.27839</text></g><polygon points="1458,30 1467,30 1462.5,34.5" fill="#b4b4b4"/><polygon points="2,40 9,40 5.5,36" fill="#000"/><text x="14" y="41.5" font-size="10.5" fill="#000" text-anchor="start" font-family='"Liberation Sans", "DejaVu Sans", sans-serif' textLength="66" lengthAdjust="spacingAndGlyphs"  stroke="#000" stroke-width="0.2">GBPUSD-,Daily</text><text x="87" y="41.5" font-size="10.5" fill="#000" text-anchor="start" font-family='"Liberation Sans", "DejaVu Sans", sans-serif' textLength="32" lengthAdjust="spacingAndGlyphs"  stroke="#000" stroke-width="0.2">1.27959</text><text x="123" y="41.5" font-size="10.5" fill="#000" text-anchor="start" font-family='"Liberation Sans", "DejaVu Sans", sans-serif' textLength="32" lengthAdjust="spacingAndGlyphs"  stroke="#000" stroke-width="0.2">1.27960</text><text x="159" y="41.5" font-size="10.5" fill="#000" text-anchor="start" font-family='"Liberation Sans", "DejaVu Sans", sans-serif' textLength="32.5" lengthAdjust="spacingAndGlyphs"  stroke="#000" stroke-width="0.2">1.27183</text><text x="195" y="41.5" font-size="10.5" fill="#000" text-anchor="start" font-family='"Liberation Sans", "DejaVu Sans", sans-serif' textLength="32.5" lengthAdjust="spacingAndGlyphs"  stroke="#000" stroke-width="0.2">1.27247</text><rect x="-1" y="663" width="1" height="26" fill="#c0c0c0" /><rect x="7" y="673" width="1" height="16" fill="#c0c0c0" /><rect x="15" y="677" width="1" height="12" fill="#c0c0c0" /><rect x="23" y="681" width="1" height="8" fill="#c0c0c0" /><rect x="31" y="688" width="1" height="3" fill="#c0c0c0" /><rect x="39" y="688" width="1" height="9" fill="#c0c0c0" /><rect x="47" y="688" width="1" height="20" fill="#c0c0c0" /><rect x="55" y="688" width="1" height="33" fill="#c0c0c0" /><rect x="63" y="688" width="1" height="42" fill="#c0c0c0" /><rect x="71" y="688" width="1" height="49" fill="#c0c0c0" /><rect x="79" y="688" width="1" height="55" fill="#c0c0c0" /><rect x="87" y="688" width="1" height="66" fill="#c0c0c0" /><rect x="95" y="688" width="1" height="70" fill="#c0c0c0" /><rect x="103" y="688" width="1" height="56" fill="#c0c0c0" /><rect x="111" y="688" width="1" height="48" fill="#c0c0c0" /><rect x="119" y="688" width="1" height="37" fill="#c0c0c0" /><rect x="127" y="688" width="1" height="26" fill="#c0c0c0" /><rect x="135" y="688" width="1" height="13" fill="#c0c0c0" /><rect x="143" y="688" width="1" height="1" fill="#c0c0c0" /><rect x="151" y="684" width="1" height="5" fill="#c0c0c0" /><rect x="159" y="687" width="1" height="2" fill="#c0c0c0" /><rect x="167" y="688" width="1" height="3" fill="#c0c0c0" /><rect x="175" y="688" width="1" height="12" fill="#c0c0c0" /><rect x="183" y="688" width="1" height="8" fill="#c0c0c0" /><rect x="191" y="688" width="1" height="7" fill="#c0c0c0" /><rect x="199" y="688" width="1" height="20" fill="#c0c0c0" /><rect x="207" y="688" width="1" height="26" fill="#c0c0c0" /><rect x="215" y="688" width="1" height="31" fill="#c0c0c0" /><rect x="223" y="688" width="1" height="32" fill="#c0c0c0" /><rect x="231" y="688" width="1" height="38" fill="#c0c0c0" /><rect x="239" y="688" width="1" height="42" fill="#c0c0c0" /><rect x="247" y="688" width="1" height="39" fill="#c0c0c0" /><rect x="255" y="688" width="1" height="40" fill="#c0c0c0" /><rect x="263" y="688" width="1" height="40" fill="#c0c0c0" /><rect x="271" y="688" width="1" height="40" fill="#c0c0c0" /><rect x="279" y="688" width="1" height="44" fill="#c0c0c0" /><rect x="287" y="688" width="1" height="41" fill="#c0c0c0" /><rect x="295" y="688" width="1" height="41" fill="#c0c0c0" /><rect x="303" y="688" width="1" height="44" fill="#c0c0c0" /><rect x="311" y="688" width="1" height="44" fill="#c0c0c0" /><rect x="319" y="688" width="1" height="46" fill="#c0c0c0" /><rect x="327" y="688" width="1" height="47" fill="#c0c0c0" /><rect x="335" y="688" width="1" height="47" fill="#c0c0c0" /><rect x="343" y="688" width="1" height="43" fill="#c0c0c0" /><rect x="351" y="688" width="1" height="42" fill="#c0c0c0" /><rect x="359" y="688" width="1" height="42" fill="#c0c0c0" /><rect x="367" y="688" width="1" height="52" fill="#c0c0c0" /><rect x="375" y="688" width="1" height="64" fill="#c0c0c0" /><rect x="383" y="688" width="1" height="64" fill="#c0c0c0" /><rect x="391" y="688" width="1" height="61" fill="#c0c0c0" /><rect x="399" y="688" width="1" height="63" fill="#c0c0c0" /><rect x="407" y="688" width="1" height="64" fill="#c0c0c0" /><rect x="415" y="688" width="1" height="62" fill="#c0c0c0" /><rect x="423" y="688" width="1" height="56" fill="#c0c0c0" /><rect x="431" y="688" width="1" height="54" fill="#c0c0c0" /><rect x="439" y="688" width="1" height="48" fill="#c0c0c0" /><rect x="447" y="688" width="1" height="45" fill="#c0c0c0" /><rect x="455" y="688" width="1" height="42" fill="#c0c0c0" /><rect x="463" y="688" width="1" height="36" fill="#c0c0c0" /><rect x="471" y="688" width="1" height="31" fill="#c0c0c0" /><rect x="479" y="688" width="1" height="29" fill="#c0c0c0" /><rect x="487" y="688" width="1" height="28" fill="#c0c0c0" /><rect x="495" y="688" width="1" height="23" fill="#c0c0c0" /><rect x="503" y="688" width="1" height="20" fill="#c0c0c0" /><rect x="511" y="688" width="1" height="13" fill="#c0c0c0" /><rect x="519" y="688" width="1" height="7" fill="#c0c0c0" /><rect x="527" y="688" width="1" height="18" fill="#c0c0c0" /><rect x="535" y="688" width="1" height="19" fill="#c0c0c0" /><rect x="543" y="688" width="1" height="12" fill="#c0c0c0" /><rect x="551" y="688" width="1" height="7" fill="#c0c0c0" /><rect x="559" y="688" width="1" height="1" fill="#c0c0c0" /><rect x="567" y="685" width="1" height="4" fill="#c0c0c0" /><rect x="575" y="679" width="1" height="10" fill="#c0c0c0" /><rect x="583" y="677" width="1" height="12" fill="#c0c0c0" /><rect x="591" y="670" width="1" height="19" fill="#c0c0c0" /><rect x="599" y="664" width="1" height="25" fill="#c0c0c0" /><rect x="607" y="658" width="1" height="31" fill="#c0c0c0" /><rect x="615" y="654" width="1" height="35" fill="#c0c0c0" /><rect x="623" y="650" width="1" height="39" fill="#c0c0c0" /><rect x="631" y="641" width="1" height="48" fill="#c0c0c0" /><rect x="639" y="642" width="1" height="47" fill="#c0c0c0" /><rect x="647" y="645" width="1" height="44" fill="#c0c0c0" /><rect x="655" y="645" width="1" height="44" fill="#c0c0c0" /><rect x="663" y="641" width="1" height="48" fill="#c0c0c0" /><rect x="671" y="630" width="1" height="59" fill="#c0c0c0" /><rect x="679" y="620" width="1" height="69" fill="#c0c0c0" /><rect x="687" y="607" width="1" height="82" fill="#c0c0c0" /><rect x="695" y="598" width="1" height="91" fill="#c0c0c0" /><rect x="703" y="594" width="1" height="95" fill="#c0c0c0" /><rect x="711" y="598" width="1" height="91" fill="#c0c0c0" /><rect x="719" y="600" width="1" height="89" fill="#c0c0c0" /><rect x="727" y="603" width="1" height="86" fill="#c0c0c0" /><rect x="735" y="607" width="1" height="82" fill="#c0c0c0" /><rect x="743" y="613" width="1" height="76" fill="#c0c0c0" /><rect x="751" y="621" width="1" height="68" fill="#c0c0c0" /><rect x="759" y="633" width="1" height="56" fill="#c0c0c0" /><rect x="767" y="644" width="1" height="45" fill="#c0c0c0" /><rect x="775" y="653" width="1" height="36" fill="#c0c0c0" /><rect x="783" y="661" width="1" height="28" fill="#c0c0c0" /><rect x="791" y="667" width="1" height="22" fill="#c0c0c0" /><rect x="799" y="677" width="1" height="12" fill="#c0c0c0" /><rect x="807" y="683" width="1" height="6" fill="#c0c0c0" /><rect x="815" y="688" width="1" height="3" fill="#c0c0c0" /><rect x="823" y="688" width="1" height="12" fill="#c0c0c0" /><rect x="831" y="688" width="1" height="14" fill="#c0c0c0" /><rect x="839" y="688" width="1" height="14" fill="#c0c0c0" /><rect x="847" y="688" width="1" height="12" fill="#c0c0c0" /><rect x="855" y="688" width="1" height="2" fill="#c0c0c0" /><rect x="863" y="682" width="1" height="7" fill="#c0c0c0" /><rect x="871" y="677" width="1" height="12" fill="#c0c0c0" /><rect x="879" y="672" width="1" height="17" fill="#c0c0c0" /><rect x="887" y="667" width="1" height="22" fill="#c0c0c0" /><rect x="895" y="660" width="1" height="29" fill="#c0c0c0" /><rect x="903" y="646" width="1" height="43" fill="#c0c0c0" /><rect x="911" y="631" width="1" height="58" fill="#c0c0c0" /><rect x="919" y="624" width="1" height="65" fill="#c0c0c0" /><rect x="927" y="625" width="1" height="64" fill="#c0c0c0" /><rect x="935" y="622" width="1" height="67" fill="#c0c0c0" /><rect x="943" y="625" width="1" height="64" fill="#c0c0c0" /><rect x="951" y="629" width="1" height="60" fill="#c0c0c0" /><rect x="959" y="632" width="1" height="57" fill="#c0c0c0" /><rect x="967" y="641" width="1" height="48" fill="#c0c0c0" /><rect x="975" y="653" width="1" height="36" fill="#c0c0c0" /><rect x="983" y="665" width="1" height="24" fill="#c0c0c0" /><rect x="991" y="657" width="1" height="32" fill="#c0c0c0" /><rect x="999" y="664" width="1" height="25" fill="#c0c0c0" /><rect x="1007" y="654" width="1" height="35" fill="#c0c0c0" /><rect x="1015" y="649" width="1" height="40" fill="#c0c0c0" /><rect x="1023" y="644" width="1" height="45" fill="#c0c0c0" /><rect x="1031" y="639" width="1" height="50" fill="#c0c0c0" /><rect x="1039" y="639" width="1" height="50" fill="#c0c0c0" /><rect x="1047" y="638" width="1" height="51" fill="#c0c0c0" /><rect x="1055" y="643" width="1" height="46" fill="#c0c0c0" /><rect x="1063" y="652" width="1" height="37" fill="#c0c0c0" /><rect x="1071" y="654" width="1" height="35" fill="#c0c0c0" /><rect x="1079" y="656" width="1" height="33" fill="#c0c0c0" /><rect x="1087" y="658" width="1" height="31" fill="#c0c0c0" /><rect x="1095" y="660" width="1" height="29" fill="#c0c0c0" /><rect x="1103" y="666" width="1" height="23" fill="#c0c0c0" /><rect x="1111" y="677" width="1" height="12" fill="#c0c0c0" /><rect x="1119" y="688" width="1" height="1" fill="#c0c0c0" /><rect x="1127" y="688" width="1" height="10" fill="#c0c0c0" /><rect x="1135" y="688" width="1" height="13" fill="#c0c0c0" /><rect x="1143" y="688" width="1" height="12" fill="#c0c0c0" /><rect x="1151" y="688" width="1" height="7" fill="#c0c0c0" /><rect x="1159" y="688" width="1" height="10" fill="#c0c0c0" /><rect x="1167" y="688" width="1" height="16" fill="#c0c0c0" /><rect x="1175" y="688" width="1" height="19" fill="#c0c0c0" /><rect x="1183" y="688" width="1" height="20" fill="#c0c0c0" /><rect x="1191" y="688" width="1" height="21" fill="#c0c0c0" /><rect x="1199" y="688" width="1" height="19" fill="#c0c0c0" /><rect x="1207" y="688" width="1" height="19" fill="#c0c0c0" /><rect x="1215" y="688" width="1" height="18" fill="#c0c0c0" /><rect x="1223" y="688" width="1" height="17" fill="#c0c0c0" /><rect x="1231" y="688" width="1" height="14" fill="#c0c0c0" /><rect x="1239" y="688" width="1" height="16" fill="#c0c0c0" /><rect x="1247" y="688" width="1" height="18" fill="#c0c0c0" /><rect x="1255" y="688" width="1" height="22" fill="#c0c0c0" /><rect x="1263" y="688" width="1" height="25" fill="#c0c0c0" /><rect x="1271" y="688" width="1" height="28" fill="#c0c0c0" /><rect x="1279" y="688" width="1" height="32" fill="#c0c0c0" /><rect x="1287" y="688" width="1" height="38" fill="#c0c0c0" /><rect x="1295" y="688" width="1" height="42" fill="#c0c0c0" /><rect x="1303" y="688" width="1" height="43" fill="#c0c0c0" /><rect x="1311" y="688" width="1" height="44" fill="#c0c0c0" /><rect x="1319" y="688" width="1" height="43" fill="#c0c0c0" /><rect x="1327" y="688" width="1" height="35" fill="#c0c0c0" /><rect x="1335" y="688" width="1" height="27" fill="#c0c0c0" /><rect x="1343" y="688" width="1" height="22" fill="#c0c0c0" /><rect x="1351" y="688" width="1" height="9" fill="#c0c0c0" /><rect x="1359" y="688" width="1" height="1" fill="#c0c0c0" /><rect x="1367" y="684" width="1" height="5" fill="#c0c0c0" /><rect x="1375" y="683" width="1" height="6" fill="#c0c0c0" /><rect x="1383" y="687" width="1" height="2" fill="#c0c0c0" /><rect x="1391" y="688" width="1" height="1" fill="#c0c0c0" /><rect x="1399" y="688" width="1" height="3" fill="#c0c0c0" /><rect x="1407" y="688" width="1" height="5" fill="#c0c0c0" /><rect x="1415" y="688" width="1" height="9" fill="#c0c0c0" /><rect x="1423" y="688" width="1" height="16" fill="#c0c0c0" /><rect x="1431" y="688" width="1" height="25" fill="#c0c0c0" /><rect x="1439" y="688" width="1" height="35" fill="#c0c0c0" /><rect x="1447" y="688" width="1" height="48" fill="#c0c0c0" /><polyline points="-0.5,663.4 7.5,663.4 15.5,664.0 23.5,665.0 63.5,693.5 71.5,701.7 79.5,709.5 87.5,718.0 95.5,726.5 103.5,732.5 111.5,736.8 119.5,738.7 127.5,737.9 135.5,734.6 143.5,729.3 151.5,722.7 159.5,715.2 167.5,707.8 175.5,702.9 183.5,698.5 191.5,695.1 199.5,694.5 207.5,696.0 215.5,699.3 223.5,703.3 231.5,707.7 239.5,712.1 247.5,715.1 255.5,718.6 263.5,722.3 271.5,724.5 279.5,726.5 287.5,727.7 295.5,728.7 303.5,729.3 311.5,729.6 319.5,730.4 327.5,731.2 335.5,732.0 343.5,732.4 351.5,732.1 359.5,732.1 367.5,733.3 375.5,735.5 383.5,737.7 391.5,739.4 399.5,741.1 407.5,743.0 415.5,745.0 423.5,746.6 431.5,748.0 439.5,747.5 447.5,745.4 455.5,743.0 463.5,740.2 471.5,736.6 479.5,732.7 487.5,729.0 495.5,725.3 503.5,721.5 511.5,717.6 519.5,713.4 527.5,710.8 535.5,708.9 543.5,706.8 551.5,704.4 559.5,701.2 567.5,698.3 575.5,695.1 583.5,692.4 591.5,689.6 599.5,684.9 607.5,679.4 615.5,674.3 623.5,669.3 631.5,664.2 639.5,659.4 647.5,655.7 655.5,652.1 663.5,648.9 671.5,645.1 679.5,640.8 687.5,635.6 695.5,629.7 703.5,624.5 711.5,619.6 719.5,614.6 727.5,609.9 735.5,606.2 743.5,604.3 751.5,604.5 759.5,607.3 767.5,612.5 775.5,619.0 783.5,625.9 791.5,633.4 799.5,641.7 807.5,650.1 815.5,658.7 823.5,667.5 831.5,675.2 839.5,681.6 847.5,686.8 855.5,690.1 863.5,691.8 871.5,691.8 879.5,690.5 887.5,687.9 895.5,683.5 903.5,677.3 911.5,669.5 919.5,661.1 927.5,653.9 935.5,647.2 943.5,641.4 951.5,636.7 959.5,632.7 967.5,630.6 975.5,631.3 983.5,635.0 991.5,638.7 999.5,643.0 1007.5,646.6 1015.5,649.3 1023.5,650.9 1031.5,651.8 1039.5,651.5 1047.5,649.9 1055.5,647.5 1063.5,646.9 1071.5,645.8 1079.5,646.1 1087.5,647.1 1095.5,648.9 1103.5,651.8 1111.5,656.1 1119.5,661.8 1127.5,667.9 1135.5,673.3 1143.5,678.4 1151.5,682.7 1159.5,687.2 1167.5,692.0 1175.5,696.6 1183.5,700.0 1191.5,702.2 1199.5,703.2 1207.5,703.9 1215.5,704.6 1223.5,705.7 1231.5,706.1 1239.5,706.2 1247.5,706.0 1255.5,706.3 1263.5,706.8 1271.5,707.8 1279.5,709.2 1287.5,711.4 1295.5,714.2 1303.5,717.4 1311.5,720.5 1319.5,723.3 1327.5,724.7 1335.5,724.9 1343.5,724.3 1351.5,721.7 1359.5,717.5 1367.5,712.4 1375.5,707.1 1383.5,702.1 1391.5,697.4 1399.5,693.9 1407.5,691.5 1415.5,690.0 1423.5,690.7 1431.5,693.5 1439.5,697.9 1447.5,703.7" fill="none" stroke="#ff0000" stroke-width="1" stroke-dasharray="3.5,2.5"/><text x="3" y="598" font-size="11" fill="#000" text-anchor="start" font-family='"Liberation Sans", "DejaVu Sans", sans-serif' textLength="153" lengthAdjust="spacingAndGlyphs"  stroke="#000" stroke-width="0.2">MACD(12,26,9) -0.005673 -0.001823</text><line x1="0" y1="802.5" x2="1627" y2="802.5" stroke="#c0c0c0" stroke-width="1" stroke-dasharray="3,3"/><line x1="0" y1="850.5" x2="1627" y2="850.5" stroke="#c0c0c0" stroke-width="1" stroke-dasharray="3,3"/><line x1="0" y1="905.5" x2="1627" y2="905.5" stroke="#c0c0c0" stroke-width="1" stroke-dasharray="3,3"/><polyline points="-0.5,849.9 7.5,858.7 15.5,853.0 23.5,853.2 31.5,863.2 39.5,861.3 47.5,869.8 55.5,874.7 63.5,873.1 71.5,873.1 79.5,875.5 87.5,882.7 95.5,873.2 103.5,846.3 111.5,850.1 119.5,845.9 127.5,841.4 135.5,836.7 143.5,835.5 151.5,842.9 159.5,852.1 167.5,855.7 175.5,862.9 183.5,847.1 191.5,849.9 199.5,866.2 207.5,860.1 215.5,860.1 223.5,857.6 231.5,863.0 239.5,863.8 247.5,853.6 255.5,859.1 263.5,858.9 271.5,858.8 279.5,864.8 287.5,855.6 295.5,859.1 303.5,862.8 311.5,861.5 319.5,864.0 327.5,864.7 335.5,863.7 343.5,855.8 351.5,859.2 359.5,862.6 367.5,877.0 375.5,881.7 383.5,863.8 391.5,860.4 399.5,866.8 407.5,865.9 415.5,862.1 423.5,857.1 431.5,860.1 439.5,854.5 447.5,858.1 455.5,856.0 463.5,850.8 471.5,851.3 479.5,856.2 487.5,856.7 495.5,849.1 503.5,849.9 511.5,842.3 519.5,840.8 527.5,869.7 535.5,855.6 543.5,843.9 551.5,845.0 559.5,840.1 567.5,845.3 575.5,839.5 583.5,844.9 591.5,836.4 599.5,836.2 607.5,833.8 615.5,834.4 623.5,832.8 631.5,824.3 639.5,839.5 647.5,842.1 655.5,838.0 663.5,832.0 671.5,822.5 679.5,820.0 687.5,815.2 695.5,814.7 703.5,821.9 711.5,832.9 719.5,829.9 727.5,830.9 735.5,834.6 743.5,835.8 751.5,842.5 759.5,851.6 767.5,854.3 775.5,852.3 783.5,854.1 791.5,853.6 799.5,863.2 807.5,858.8 815.5,863.2 823.5,869.7 831.5,855.5 839.5,853.5 847.5,850.4 855.5,834.3 863.5,836.7 871.5,837.2 879.5,834.6 887.5,834.2 895.5,827.2 903.5,815.9 911.5,811.9 919.5,821.3 927.5,833.0 935.5,828.5 943.5,837.0 951.5,839.9 959.5,837.3 967.5,849.1 975.5,857.3 983.5,860.3 991.5,834.9 999.5,851.3 1007.5,836.1 1015.5,838.6 1023.5,837.0 1031.5,836.0 1039.5,839.2 1047.5,838.7 1055.5,845.3 1063.5,851.9 1071.5,845.0 1079.5,845.4 1087.5,844.7 1095.5,845.2 1103.5,851.5 1111.5,860.7 1119.5,864.9 1127.5,862.8 1135.5,857.1 1143.5,850.4 1151.5,845.2 1159.5,855.7 1167.5,859.9 1175.5,859.0 1183.5,855.9 1191.5,856.7 1199.5,851.1 1207.5,856.2 1215.5,853.2 1223.5,852.2 1231.5,849.9 1239.5,857.5 1247.5,858.2 1255.5,865.0 1263.5,863.5 1271.5,864.7 1279.5,870.2 1287.5,874.0 1295.5,875.0 1303.5,867.8 1311.5,868.9 1319.5,866.1 1327.5,846.1 1335.5,844.1 1343.5,848.0 1351.5,830.2 1359.5,832.7 1367.5,841.8 1375.5,846.6 1383.5,854.9 1391.5,854.7 1399.5,855.0 1407.5,855.0 1415.5,861.8 1423.5,869.4 1431.5,876.2 1439.5,881.0 1447.5,886.9" fill="none" stroke="#1e90ff" stroke-width="1" /><text x="3" y="782.5" font-size="11" fill="#000" text-anchor="start" font-family='"Liberation Sans", "DejaVu Sans", sans-serif' textLength="67" lengthAdjust="spacingAndGlyphs"  stroke="#000" stroke-width="0.2">RSI(14) 26.1888</text><rect x="0" y="25" width="1674" height="1" fill="#a0a0a0" /><rect x="0" y="26" width="1674" height="1" fill="#6d6d6d" /><rect x="0" y="27" width="1674" height="2" fill="#fff" /><rect x="0" y="29" width="1628" height="1" fill="#000" /><rect x="1627" y="29" width="1" height="554" fill="#000" /><rect x="1627" y="584" width="1" height="184" fill="#000" /><rect x="1627" y="769" width="1" height="161" fill="#000" /><rect x="0" y="582" width="1628" height="1" fill="#000" /><rect x="0" y="584" width="1628" height="1" fill="#000" /><rect x="0" y="767" width="1628" height="1" fill="#000" /><rect x="0" y="769" width="1628" height="1" fill="#000" /><rect x="0" y="929" width="1628" height="1" fill="#000" /><rect x="1673" y="27" width="1" height="922" fill="#e3e3e3" /><rect x="1628" y="51" width="2" height="1" fill="#000" /><text x="1633.5" y="55.1" font-size="10" fill="#000" text-anchor="start" font-family='"Liberation Sans", "DejaVu Sans", sans-serif' textLength="32.2" lengthAdjust="spacingAndGlyphs" stroke="#000" stroke-width="0.25">1.33885</text><rect x="1628" y="84" width="2" height="1" fill="#000" /><text x="1633.5" y="88.1" font-size="10" fill="#000" text-anchor="start" font-family='"Liberation Sans", "DejaVu Sans", sans-serif' textLength="32.2" lengthAdjust="spacingAndGlyphs" stroke="#000" stroke-width="0.25">1.33300</text><rect x="1628" y="117" width="2" height="1" fill="#000" /><text x="1633.5" y="121.1" font-size="10" fill="#000" text-anchor="start" font-family='"Liberation Sans", "DejaVu Sans", sans-serif' textLength="32.2" lengthAdjust="spacingAndGlyphs" stroke="#000" stroke-width="0.25">1.32700</text><rect x="1628" y="150" width="2" height="1" fill="#000" /><text x="1633.5" y="154.1" font-size="10" fill="#000" text-anchor="start" font-family='"Liberation Sans", "DejaVu Sans", sans-serif' textLength="32.2" lengthAdjust="spacingAndGlyphs" stroke="#000" stroke-width="0.25">1.32115</text><rect x="1628" y="183" width="2" height="1" fill="#000" /><text x="1633.5" y="187.1" font-size="10" fill="#000" text-anchor="start" font-family='"Liberation Sans", "DejaVu Sans", sans-serif' textLength="32.2" lengthAdjust="spacingAndGlyphs" stroke="#000" stroke-width="0.25">1.31515</text><rect x="1628" y="216" width="2" height="1" fill="#000" /><text x="1633.5" y="220.1" font-size="10" fill="#000" text-anchor="start" font-family='"Liberation Sans", "DejaVu Sans", sans-serif' textLength="32.2" lengthAdjust="spacingAndGlyphs" stroke="#000" stroke-width="0.25">1.30930</text><rect x="1628" y="249" width="2" height="1" fill="#000" /><text x="1633.5" y="253.1" font-size="10" fill="#000" text-anchor="start" font-family='"Liberation Sans", "DejaVu Sans", sans-serif' textLength="32.2" lengthAdjust="spacingAndGlyphs" stroke="#000" stroke-width="0.25">1.30330</text><rect x="1628" y="282" width="2" height="1" fill="#000" /><text x="1633.5" y="286.1" font-size="10" fill="#000" text-anchor="start" font-family='"Liberation Sans", "DejaVu Sans", sans-serif' textLength="32.2" lengthAdjust="spacingAndGlyphs" stroke="#000" stroke-width="0.25">1.29745</text><rect x="1628" y="315" width="2" height="1" fill="#000" /><text x="1633.5" y="319.1" font-size="10" fill="#000" text-anchor="start" font-family='"Liberation Sans", "DejaVu Sans", sans-serif' textLength="32.2" lengthAdjust="spacingAndGlyphs" stroke="#000" stroke-width="0.25">1.29145</text><rect x="1628" y="348" width="2" height="1" fill="#000" /><text x="1633.5" y="352.1" font-size="10" fill="#000" text-anchor="start" font-family='"Liberation Sans", "DejaVu Sans", sans-serif' textLength="32.2" lengthAdjust="spacingAndGlyphs" stroke="#000" stroke-width="0.25">1.28560</text><rect x="1628" y="381" width="2" height="1" fill="#000" /><text x="1633.5" y="385.1" font-size="10" fill="#000" text-anchor="start" font-family='"Liberation Sans", "DejaVu Sans", sans-serif' textLength="32.2" lengthAdjust="spacingAndGlyphs" stroke="#000" stroke-width="0.25">1.27960</text><rect x="1628" y="414" width="2" height="1" fill="#000" /><text x="1633.5" y="418.1" font-size="10" fill="#000" text-anchor="start" font-family='"Liberation Sans", "DejaVu Sans", sans-serif' textLength="32.2" lengthAdjust="spacingAndGlyphs" stroke="#000" stroke-width="0.25">1.27375</text><rect x="1628" y="447" width="2" height="1" fill="#000" /><text x="1633.5" y="451.1" font-size="10" fill="#000" text-anchor="start" font-family='"Liberation Sans", "DejaVu Sans", sans-serif' textLength="32.2" lengthAdjust="spacingAndGlyphs" stroke="#000" stroke-width="0.25">1.26775</text><rect x="1628" y="480" width="2" height="1" fill="#000" /><text x="1633.5" y="484.1" font-size="10" fill="#000" text-anchor="start" font-family='"Liberation Sans", "DejaVu Sans", sans-serif' textLength="32.2" lengthAdjust="spacingAndGlyphs" stroke="#000" stroke-width="0.25">1.26175</text><rect x="1628" y="513" width="2" height="1" fill="#000" /><text x="1633.5" y="517.1" font-size="10" fill="#000" text-anchor="start" font-family='"Liberation Sans", "DejaVu Sans", sans-serif' textLength="32.2" lengthAdjust="spacingAndGlyphs" stroke="#000" stroke-width="0.25">1.25590</text><rect x="1628" y="546" width="2" height="1" fill="#000" /><text x="1633.5" y="550.1" font-size="10" fill="#000" text-anchor="start" font-family='"Liberation Sans", "DejaVu Sans", sans-serif' textLength="32.2" lengthAdjust="spacingAndGlyphs" stroke="#000" stroke-width="0.25">1.24990</text><rect x="1628" y="579" width="2" height="1" fill="#000" /><text x="1633.5" y="583.1" font-size="10" fill="#000" text-anchor="start" font-family='"Liberation Sans", "DejaVu Sans", sans-serif' textLength="32.2" lengthAdjust="spacingAndGlyphs" stroke="#000" stroke-width="0.25">1.24405</text><rect x="1629" y="301" width="41" height="11" fill="#ff0000" /><text x="1633.5" y="310.2" font-size="10" fill="#fff" text-anchor="start" font-family='"Liberation Sans", "DejaVu Sans", sans-serif' textLength="32.2" lengthAdjust="spacingAndGlyphs" stroke="#fff" stroke-width="0.25">1.29292</text><rect x="1629" y="342" width="41" height="11" fill="#ff0000" /><text x="1633.5" y="351.2" font-size="10" fill="#fff" text-anchor="start" font-family='"Liberation Sans", "DejaVu Sans", sans-serif' textLength="32.2" lengthAdjust="spacingAndGlyphs" stroke="#fff" stroke-width="0.25">1.28557</text><rect x="1629" y="382" width="41" height="11" fill="#3ccb3c" /><text x="1633.5" y="391.2" font-size="10" fill="#fff" text-anchor="start" font-family='"Liberation Sans", "DejaVu Sans", sans-serif' textLength="32.2" lengthAdjust="spacingAndGlyphs" stroke="#fff" stroke-width="0.25">1.27839</text><rect x="1629" y="415" width="41" height="11" fill="#000" /><text x="1633.5" y="424.2" font-size="10" fill="#fff" text-anchor="start" font-family='"Liberation Sans", "DejaVu Sans", sans-serif' textLength="32.2" lengthAdjust="spacingAndGlyphs" stroke="#fff" stroke-width="0.25">1.27247</text><rect x="1629" y="454" width="41" height="11" fill="#0000ff" /><text x="1633.5" y="463.2" font-size="10" fill="#fff" text-anchor="start" font-family='"Liberation Sans", "DejaVu Sans", sans-serif' textLength="32.2" lengthAdjust="spacingAndGlyphs" stroke="#fff" stroke-width="0.25">1.26548</text><rect x="1629" y="492" width="41" height="11" fill="#0000ff" /><text x="1633.5" y="501.2" font-size="10" fill="#fff" text-anchor="start" font-family='"Liberation Sans", "DejaVu Sans", sans-serif' textLength="32.2" lengthAdjust="spacingAndGlyphs" stroke="#fff" stroke-width="0.25">1.25867</text><rect x="1628" y="586" width="2" height="1" fill="#000" /><text x="1631" y="595" font-size="10" fill="#000" text-anchor="start" font-family='"Liberation Sans", "DejaVu Sans", sans-serif' textLength="37.7" lengthAdjust="spacingAndGlyphs"  stroke="#000" stroke-width="0.2">0.012312</text><rect x="1628" y="688" width="3" height="1" fill="#000" /><text x="1631" y="691.6" font-size="10" fill="#000" text-anchor="start" font-family='"Liberation Sans", "DejaVu Sans", sans-serif' textLength="17" lengthAdjust="spacingAndGlyphs"  stroke="#000" stroke-width="0.2">0.00</text><rect x="1628" y="766" width="2" height="1" fill="#000" /><text x="1631" y="764.5" font-size="10" fill="#000" text-anchor="start" font-family='"Liberation Sans", "DejaVu Sans", sans-serif' textLength="40" lengthAdjust="spacingAndGlyphs"  stroke="#000" stroke-width="0.2">-0.009328</text><rect x="1628" y="771" width="3" height="1" fill="#000" /><text x="1631" y="780" font-size="10" fill="#000" text-anchor="start" font-family='"Liberation Sans", "DejaVu Sans", sans-serif'  stroke="#000" stroke-width="0.2">100</text><rect x="1628" y="802" width="3" height="1" fill="#000" /><text x="1631" y="806.036" font-size="10" fill="#000" text-anchor="start" font-family='"Liberation Sans", "DejaVu Sans", sans-serif'  stroke="#000" stroke-width="0.2">80</text><rect x="1628" y="850" width="3" height="1" fill="#000" /><text x="1631" y="853.235" font-size="10" fill="#000" text-anchor="start" font-family='"Liberation Sans", "DejaVu Sans", sans-serif'  stroke="#000" stroke-width="0.2">50</text><rect x="1628" y="905" width="3" height="1" fill="#000" /><text x="1631" y="908.3004999999999" font-size="10" fill="#000" text-anchor="start" font-family='"Liberation Sans", "DejaVu Sans", sans-serif'  stroke="#000" stroke-width="0.2">15</text><rect x="1628" y="928" width="3" height="1" fill="#000" /><text x="1631" y="926" font-size="10" fill="#000" text-anchor="start" font-family='"Liberation Sans", "DejaVu Sans", sans-serif'  stroke="#000" stroke-width="0.2">0</text><rect x="-1" y="930" width="1" height="3" fill="#000" /><text x="-2" y="942" font-size="10" fill="#000" text-anchor="start" font-family='"Liberation Sans", "DejaVu Sans", sans-serif' textLength="51.2" lengthAdjust="spacingAndGlyphs"  stroke="#000" stroke-width="0.2">17 Oct 2018</text><rect x="63" y="930" width="1" height="3" fill="#000" /><text x="62" y="942" font-size="10" fill="#000" text-anchor="start" font-family='"Liberation Sans", "DejaVu Sans", sans-serif' textLength="51.2" lengthAdjust="spacingAndGlyphs"  stroke="#000" stroke-width="0.2">26 Oct 2018</text><rect x="127" y="930" width="1" height="3" fill="#000" /><text x="126" y="942" font-size="10" fill="#000" text-anchor="start" font-family='"Liberation Sans", "DejaVu Sans", sans-serif' textLength="48.0" lengthAdjust="spacingAndGlyphs"  stroke="#000" stroke-width="0.2">5 Nov 2018</text><rect x="191" y="930" width="1" height="3" fill="#000" /><text x="190" y="942" font-size="10" fill="#000" text-anchor="start" font-family='"Liberation Sans", "DejaVu Sans", sans-serif' textLength="53.3" lengthAdjust="spacingAndGlyphs"  stroke="#000" stroke-width="0.2">14 Nov 2018</text><rect x="255" y="930" width="1" height="3" fill="#000" /><text x="254" y="942" font-size="10" fill="#000" text-anchor="start" font-family='"Liberation Sans", "DejaVu Sans", sans-serif' textLength="53.3" lengthAdjust="spacingAndGlyphs"  stroke="#000" stroke-width="0.2">23 Nov 2018</text><rect x="319" y="930" width="1" height="3" fill="#000" /><text x="318" y="942" font-size="10" fill="#000" text-anchor="start" font-family='"Liberation Sans", "DejaVu Sans", sans-serif' textLength="48.0" lengthAdjust="spacingAndGlyphs"  stroke="#000" stroke-width="0.2">3 Dec 2018</text><rect x="383" y="930" width="1" height="3" fill="#000" /><text x="382" y="942" font-size="10" fill="#000" text-anchor="start" font-family='"Liberation Sans", "DejaVu Sans", sans-serif' textLength="53.3" lengthAdjust="spacingAndGlyphs"  stroke="#000" stroke-width="0.2">12 Dec 2018</text><rect x="447" y="930" width="1" height="3" fill="#000" /><text x="446" y="942" font-size="10" fill="#000" text-anchor="start" font-family='"Liberation Sans", "DejaVu Sans", sans-serif' textLength="53.3" lengthAdjust="spacingAndGlyphs"  stroke="#000" stroke-width="0.2">21 Dec 2018</text><rect x="511" y="930" width="1" height="3" fill="#000" /><text x="510" y="942" font-size="10" fill="#000" text-anchor="start" font-family='"Liberation Sans", "DejaVu Sans", sans-serif' textLength="53.3" lengthAdjust="spacingAndGlyphs"  stroke="#000" stroke-width="0.2">31 Dec 2018</text><rect x="575" y="930" width="1" height="3" fill="#000" /><text x="574" y="942" font-size="10" fill="#000" text-anchor="start" font-family='"Liberation Sans", "DejaVu Sans", sans-serif' textLength="46.5" lengthAdjust="spacingAndGlyphs"  stroke="#000" stroke-width="0.2">9 Jan 2019</text><rect x="639" y="930" width="1" height="3" fill="#000" /><text x="638" y="942" font-size="10" fill="#000" text-anchor="start" font-family='"Liberation Sans", "DejaVu Sans", sans-serif' textLength="51.7" lengthAdjust="spacingAndGlyphs"  stroke="#000" stroke-width="0.2">18 Jan 2019</text><rect x="703" y="930" width="1" height="3" fill="#000" /><text x="702" y="942" font-size="10" fill="#000" text-anchor="start" font-family='"Liberation Sans", "DejaVu Sans", sans-serif' textLength="51.7" lengthAdjust="spacingAndGlyphs"  stroke="#000" stroke-width="0.2">28 Jan 2019</text><rect x="767" y="930" width="1" height="3" fill="#000" /><text x="766" y="942" font-size="10" fill="#000" text-anchor="start" font-family='"Liberation Sans", "DejaVu Sans", sans-serif' textLength="47.5" lengthAdjust="spacingAndGlyphs"  stroke="#000" stroke-width="0.2">6 Feb 2019</text><rect x="831" y="930" width="1" height="3" fill="#000" /><text x="830" y="942" font-size="10" fill="#000" text-anchor="start" font-family='"Liberation Sans", "DejaVu Sans", sans-serif' textLength="52.8" lengthAdjust="spacingAndGlyphs"  stroke="#000" stroke-width="0.2">15 Feb 2019</text><rect x="895" y="930" width="1" height="3" fill="#000" /><text x="894" y="942" font-size="10" fill="#000" text-anchor="start" font-family='"Liberation Sans", "DejaVu Sans", sans-serif' textLength="52.8" lengthAdjust="spacingAndGlyphs"  stroke="#000" stroke-width="0.2">25 Feb 2019</text><rect x="959" y="930" width="1" height="3" fill="#000" /><text x="958" y="942" font-size="10" fill="#000" text-anchor="start" font-family='"Liberation Sans", "DejaVu Sans", sans-serif' textLength="47.5" lengthAdjust="spacingAndGlyphs"  stroke="#000" stroke-width="0.2">6 Mar 2019</text><rect x="1023" y="930" width="1" height="3" fill="#000" /><text x="1022" y="942" font-size="10" fill="#000" text-anchor="start" font-family='"Liberation Sans", "DejaVu Sans", sans-serif' textLength="52.7" lengthAdjust="spacingAndGlyphs"  stroke="#000" stroke-width="0.2">15 Mar 2019</text><rect x="1087" y="930" width="1" height="3" fill="#000" /><text x="1086" y="942" font-size="10" fill="#000" text-anchor="start" font-family='"Liberation Sans", "DejaVu Sans", sans-serif' textLength="52.7" lengthAdjust="spacingAndGlyphs"  stroke="#000" stroke-width="0.2">25 Mar 2019</text><rect x="1151" y="930" width="1" height="3" fill="#000" /><text x="1150" y="942" font-size="10" fill="#000" text-anchor="start" font-family='"Liberation Sans", "DejaVu Sans", sans-serif' textLength="45.4" lengthAdjust="spacingAndGlyphs"  stroke="#000" stroke-width="0.2">3 Apr 2019</text><rect x="1215" y="930" width="1" height="3" fill="#000" /><text x="1214" y="942" font-size="10" fill="#000" text-anchor="start" font-family='"Liberation Sans", "DejaVu Sans", sans-serif' textLength="50.7" lengthAdjust="spacingAndGlyphs"  stroke="#000" stroke-width="0.2">12 Apr 2019</text><rect x="1279" y="930" width="1" height="3" fill="#000" /><text x="1278" y="942" font-size="10" fill="#000" text-anchor="start" font-family='"Liberation Sans", "DejaVu Sans", sans-serif' textLength="50.7" lengthAdjust="spacingAndGlyphs"  stroke="#000" stroke-width="0.2">23 Apr 2019</text><rect x="1343" y="930" width="1" height="3" fill="#000" /><text x="1342" y="942" font-size="10" fill="#000" text-anchor="start" font-family='"Liberation Sans", "DejaVu Sans", sans-serif' textLength="49.1" lengthAdjust="spacingAndGlyphs"  stroke="#000" stroke-width="0.2">2 May 2019</text><rect x="1407" y="930" width="1" height="3" fill="#000" /><text x="1406" y="942" font-size="10" fill="#000" text-anchor="start" font-family='"Liberation Sans", "DejaVu Sans", sans-serif' textLength="54.3" lengthAdjust="spacingAndGlyphs"  stroke="#000" stroke-width="0.2">12 May 2019</text>
</svg>
<div id="tb"><svg width="1674" height="25" style="position:absolute;left:0;top:0">
<defs>
<linearGradient id="gold" x1="0" y1="0" x2="1" y2="1"><stop offset="0" stop-color="#f8e27a"/><stop offset="1" stop-color="#b8860b"/></linearGradient>
<radialGradient id="clk" cx="0.4" cy="0.35" r="0.7"><stop offset="0" stop-color="#cfe6ff"/><stop offset="1" stop-color="#2a6fc9"/></radialGradient>
</defs>
<!-- new order -->
<path d="M0.5,5.5 H6.5 L9.5,8.5 V18.5 H0.5 Z" fill="#fff" stroke="#6a6a6a"/>
<path d="M6.5,5.5 V8.5 H9.5" fill="#ddd" stroke="#6a6a6a"/>
<rect x="0" y="8" width="3" height="1.2" fill="#8a8a8a"/><rect x="0" y="11" width="5" height="1" fill="#8a8a8a"/><rect x="0" y="14" width="4" height="1" fill="#8a8a8a"/>
<path d="M6.5,11.5 H9.5 V14.5 H13.5 V18.5 H9.5 V22.5 H6.5 V18.5 H2.5 V14.5 H6.5 Z" fill="#3ee04a" stroke="#128a1a"/>
<!-- gold -->
<polygon points="65,15 70.5,6.5 80,13 74.5,20.5" fill="url(#gold)" stroke="#a06a10" stroke-width="0.8"/>
<polygon points="74.5,20.5 80,13 81,15.5 75,21.5" fill="#b07818"/>
<!-- blue box + cloud -->
<rect x="95.5" y="5.5" width="10" height="9" fill="#3a9af0" stroke="#1a5fb0" stroke-width="0.8"/>
<rect x="100" y="8" width="5" height="1.2" fill="#cfe8ff"/><path d="M98,6 V14" stroke="#8cc8ff" stroke-width="1"/>
<g fill="#eef2f8" stroke="#7f93b3" stroke-width="0.8"><circle cx="97.5" cy="17.5" r="3"/><circle cx="101.5" cy="15.5" r="3.5"/><circle cx="105.5" cy="17.5" r="3"/></g>
<rect x="96" y="16" width="10" height="4" fill="#eef2f8"/><path d="M94.5,20.4 H108.5" stroke="#7f93b3" stroke-width="0.8"/>
<!-- radar -->
<path d="M129,5 A7.6,7.6 0 0 0 129,20.2" fill="none" stroke="#4a7fd8" stroke-width="1"/>
<path d="M129,5 A7.6,7.6 0 0 1 129,20.2" fill="none" stroke="#8cc48c" stroke-width="1"/>
<path d="M129,7.8 A4.8,4.8 0 0 0 129,17.4" fill="none" stroke="#4a7fd8" stroke-width="1"/>
<path d="M129,7.8 A4.8,4.8 0 0 1 129,17.4" fill="none" stroke="#7ab87a" stroke-width="1"/>
<circle cx="128.7" cy="12.5" r="1.9" fill="#2050c0"/>
<path d="M129,13 V20.5 A7.6,7.6 0 0 0 135.5,16.5" stroke="#22a022" stroke-width="1.4" fill="none"/>
<!-- auto trading -->
<path d="M149.5,12 L162.5,12 L160,20.5 L152,20.5 Z" fill="#f2d448" stroke="#b08a20" stroke-width="0.6"/>
<ellipse cx="156" cy="9.3" rx="8" ry="2.8" fill="#4aa0dc"/><ellipse cx="156" cy="7.5" rx="4" ry="2.6" fill="#6cb8ea"/>
<circle cx="160.5" cy="16.8" r="4.2" fill="#d81e1e"/><rect x="158.8" y="15.1" width="3.4" height="3.4" fill="#fff"/>
<!-- separators -->
<rect x="224" y="2" width="1" height="22" fill="#a0a0a0"/><rect x="225" y="2" width="1" height="22" fill="#fff"/>
<g fill="#a8a8a8"><rect x="228" y="3" width="3" height="1"/><rect x="228" y="5" width="3" height="1"/><rect x="228" y="7" width="3" height="1"/><rect x="228" y="9" width="3" height="1"/><rect x="228" y="11" width="3" height="1"/><rect x="228" y="13" width="3" height="1"/><rect x="228" y="15" width="3" height="1"/><rect x="228" y="17" width="3" height="1"/><rect x="228" y="19" width="3" height="1"/><rect x="228" y="21" width="3" height="1"/></g>
<!-- bar chart -->
<g stroke="#505050" stroke-width="1" fill="none"><path d="M242.5,8 V20.5 M240,18.5 H253"/></g>
<g fill="#505050"><polygon points="240.5,9.5 244.5,9.5 242.5,6.8"/><polygon points="252,16.5 252,20.5 254.5,18.5"/></g>
<path d="M251,9 H248.5 V15.5 H246.5" stroke="#1f9a1f" stroke-width="1.2" fill="none"/>
<!-- candle chart pressed -->
<rect x="262" y="1" width="25" height="22" fill="#f7f7f7"/>
<path d="M262.5,22.5 V1.5 H286.5" stroke="#a8a8a8" fill="none"/><path d="M262.5,22.5 H286.5 V1.5" stroke="#fdfdfd" fill="none"/>
<g stroke="#505050" stroke-width="1" fill="none"><path d="M270.5,8 V20.5 M268,18.5 H281"/></g>
<g fill="#505050"><polygon points="268.5,9.5 272.5,9.5 270.5,6.8"/><polygon points="280,16.5 280,20.5 282.5,18.5"/></g>
<path d="M276.5,5 V16.5" stroke="#1a6a1a"/>
<rect x="274.5" y="7.5" width="4" height="7" fill="#2fd84a" stroke="#1a6a1a" stroke-width="1"/>
<!-- line chart -->
<g stroke="#505050" stroke-width="1" fill="none"><path d="M298.5,8 V20.5 M296,18.5 H309"/></g>
<g fill="#505050"><polygon points="296.5,9.5 300.5,9.5 298.5,6.8"/><polygon points="308,16.5 308,20.5 310.5,18.5"/></g>
<path d="M297.5,15.5 L300,12.5 L302.5,10.3 L304,10.3 L306,12 L308.5,14" stroke="#2a9d2a" stroke-width="1.1" fill="none"/>
<rect x="319" y="2" width="1" height="22" fill="#a0a0a0"/><rect x="320" y="2" width="1" height="22" fill="#fff"/>
<!-- zoom in/out -->
<circle cx="334" cy="11" r="5.5" fill="#d8ecff" stroke="#2a6fc9" stroke-width="1.6"/><path d="M331,11 H337 M334,8 V14" stroke="#2a6fc9" stroke-width="1.5"/><path d="M338,15 L343,20" stroke="#d4a017" stroke-width="2.6"/>
<circle cx="362" cy="11" r="5.5" fill="#d8ecff" stroke="#2a6fc9" stroke-width="1.6"/><path d="M359,11 H365" stroke="#2a6fc9" stroke-width="1.5"/><path d="M366,15 L371,20" stroke="#d4a017" stroke-width="2.6"/>
<!-- tile windows -->
<rect x="384" y="5" width="7" height="6" fill="#2a8f4a"/><rect x="393" y="5" width="7" height="6" fill="#2a6fc9"/><rect x="384" y="13" width="7" height="7" fill="#2a6fc9"/><rect x="393" y="13" width="7" height="7" fill="#2a8f4a"/>
<g fill="#fff"><rect x="385" y="7" width="5" height="1"/><rect x="394" y="7" width="5" height="1"/><rect x="385" y="15" width="5" height="1"/><rect x="394" y="15" width="5" height="1"/></g>
<rect x="409" y="2" width="1" height="22" fill="#a0a0a0"/><rect x="410" y="2" width="1" height="22" fill="#fff"/>
<!-- autoscroll pressed -->
<rect x="414.5" y="1.5" width="24" height="21" fill="#f8f8f8" stroke="#c8c8c8"/>
<g stroke="#404040" fill="none"><path d="M422.5,6 V20 M420,19.5 H434 M425.5,6 V17"/></g><polygon points="428,9 432,12 428,15" fill="#2a9d2a"/>
<rect x="442.5" y="1.5" width="24" height="21" fill="#f8f8f8" stroke="#c8c8c8"/>
<g stroke="#404040" fill="none"><path d="M449.5,6 V20 M447,19.5 H462 M452.5,6 V17"/></g><polygon points="461,9 457,12 461,15" fill="#d02020"/><path d="M457,12 H463" stroke="#d02020"/>
<rect x="471" y="2" width="1" height="22" fill="#a0a0a0"/><rect x="472" y="2" width="1" height="22" fill="#fff"/>
<!-- new chart -->
<rect x="481.5" y="5.5" width="8" height="11" fill="#fff" stroke="#707070"/><rect x="484.5" y="3.5" width="8" height="11" fill="#fff" stroke="#707070"/>
<rect x="486" y="14" width="11" height="3" fill="#1fae1f"/><rect x="490" y="10" width="3" height="11" fill="#1fae1f"/>
<polygon points="503,11 508,11 505.5,14" fill="#000"/>
<!-- clock -->
<circle cx="527" cy="12.5" r="7.5" fill="url(#clk)" stroke="#1a4f9a"/><circle cx="527" cy="12.5" r="5" fill="#f4f8ff"/><path d="M527,9 V12.5 H530" stroke="#333" fill="none"/>
<polygon points="542,11 547,11 544.5,14" fill="#000"/>
<!-- template -->
<rect x="558.5" y="6.5" width="16" height="13" fill="#fff" stroke="#3a6ab0"/><rect x="559" y="7" width="15" height="3" fill="#5a8ad0"/>
<path d="M560,14 L564,12 L568,14 L573,12" stroke="#d02020" fill="none"/><path d="M560,18 L564,16 L568,18 L573,16" stroke="#2a9d2a" fill="none"/>
<polygon points="581,11 586,11 583.5,14" fill="#000"/>
<rect x="592" y="2" width="1" height="22" fill="#a0a0a0"/><rect x="593" y="2" width="1" height="22" fill="#fff"/>
<g fill="#a8a8a8"><rect x="596" y="3" width="3" height="1"/><rect x="596" y="5" width="3" height="1"/><rect x="596" y="7" width="3" height="1"/><rect x="596" y="9" width="3" height="1"/><rect x="596" y="11" width="3" height="1"/><rect x="596" y="13" width="3" height="1"/><rect x="596" y="15" width="3" height="1"/><rect x="596" y="17" width="3" height="1"/><rect x="596" y="19" width="3" height="1"/><rect x="596" y="21" width="3" height="1"/></g>
<!-- cursor pressed -->
<rect x="602.5" y="1.5" width="24" height="21" fill="#f8f8f8" stroke="#c8c8c8"/>
<polygon points="610,6 610,19 613,16 615.5,21 617.5,20 615,15 619,15" fill="#404040"/>
<!-- crosshair -->
<path d="M642.5,5 V20 M635,12.5 H650" stroke="#505050" stroke-width="1"/>
<rect x="659" y="2" width="1" height="22" fill="#a0a0a0"/><rect x="660" y="2" width="1" height="22" fill="#fff"/>
<path d="M676.5,7 V18" stroke="#505050"/>
<path d="M698,13.5 H711" stroke="#505050"/>
<path d="M726,19 L740,7" stroke="#505050"/>
<path d="M753,18 L764,8 M756,19 L767,9 M754,14 L764,14 M755,11 L765,11" stroke="#505050" fill="none"/>
<text x="764" y="21" font-size="6" font-family="Liberation Sans" fill="#404040">E</text>
<g fill="#707070"><rect x="782" y="7" width="13" height="1"/><rect x="782" y="10" width="13" height="1"/><rect x="782" y="13" width="13" height="1"/><rect x="782" y="16" width="13" height="1"/></g>
<text x="791" y="21" font-size="6" font-family="Liberation Sans" fill="#404040">F</text>
<text x="812" y="17.5" font-size="12" font-weight="bold" font-family="Liberation Sans" fill="#505050">A</text>
<rect x="838.5" y="6.5" width="13" height="12" fill="none" stroke="#707070" stroke-dasharray="1,1"/>
<text x="841" y="17" font-size="11" font-weight="bold" font-family="Liberation Sans" fill="#505050">T</text>
<path d="M866,8 L870,5 L874,8 Z M872,15 L876,18 L880,15 Z" fill="#404040"/><path d="M870,8 L876,15" stroke="#404040" stroke-width="2"/>
<polygon points="887,11 892,11 889.5,14" fill="#000"/>
<rect x="898" y="2" width="1" height="22" fill="#a0a0a0"/><rect x="899" y="2" width="1" height="22" fill="#fff"/>
<g fill="#a8a8a8"><rect x="902" y="3" width="3" height="1"/><rect x="902" y="5" width="3" height="1"/><rect x="902" y="7" width="3" height="1"/><rect x="902" y="9" width="3" height="1"/><rect x="902" y="11" width="3" height="1"/><rect x="902" y="13" width="3" height="1"/><rect x="902" y="15" width="3" height="1"/><rect x="902" y="17" width="3" height="1"/><rect x="902" y="19" width="3" height="1"/><rect x="902" y="21" width="3" height="1"/></g>
<rect x="1076.5" y="1.5" width="24" height="21" fill="#f8f8f8" stroke="#c8c8c8"/>
<rect x="1159" y="2" width="1" height="22" fill="#a0a0a0"/><rect x="1160" y="2" width="1" height="22" fill="#fff"/>
<!-- search -->
<circle cx="1629.5" cy="10.2" r="4" fill="#f4f8ff" stroke="#2a5fd0" stroke-width="1.3"/><path d="M1626.5,13.5 L1622.5,17.5" stroke="#2a5fd0" stroke-width="2.2"/>
<!-- chat -->
<path d="M1657,10 A6.3,4.6 0 1 1 1664,14.4 L1665.5,17 L1661.5,14.5 A6.3,4.6 0 0 1 1657,10 Z" fill="#e6e6e6" stroke="#8c8c8c" stroke-width="0.9"/>
<path d="M1648.5,14 A5,3.8 0 1 1 1652,17.6 L1650.5,20 L1650.3,17.4 A5,3.8 0 0 1 1648.5,14 Z" fill="#ececec" stroke="#8c8c8c" stroke-width="0.9"/>
</svg><span class="tt" style="left:17px;top:3px;font-size:12px;font-weight:500;font-family:"Liberation Sans", "Noto Sans CJK SC", "WenQuanYi Zen Hei", sans-serif">新订单</span><span class="tt" style="left:169px;top:3px;font-size:12px;font-weight:500;font-family:"Liberation Sans", "Noto Sans CJK SC", "WenQuanYi Zen Hei", sans-serif">自动交易</span><span class="tf" style="left:913px">M1</span><span class="tf" style="left:941px">M5</span><span class="tf" style="left:967px">M15</span><span class="tf" style="left:995px">M30</span><span class="tf" style="left:1026px">H1</span><span class="tf" style="left:1053px">H4</span><span class="tf" style="left:1082px">D1</span><span class="tf" style="left:1109px">W1</span><span class="tf" style="left:1136px">MN</span></div>

<div id="tp">
 <div class="hdr" style="left:2px"><span>SELL</span><i></i></div>
 <div class="hdr" style="left:169px"><span>BUY</span><i></i></div>
 <div class="spin" style="left:56px"><b class="dn"></b></div>
 <div class="lot">1.00</div>
 <div class="spin" style="left:145px"><b class="up"></b></div>
 <div class="px" style="left:2px;width:109px"><span class="s">1.27</span><span class="b">24</span><span class="e">7</span></div>
 <div class="px" style="left:113px;width:108px"><span class="s">1.27</span><span class="b">26</span><span class="e">8</span></div>
</div>

</div></body></html>
